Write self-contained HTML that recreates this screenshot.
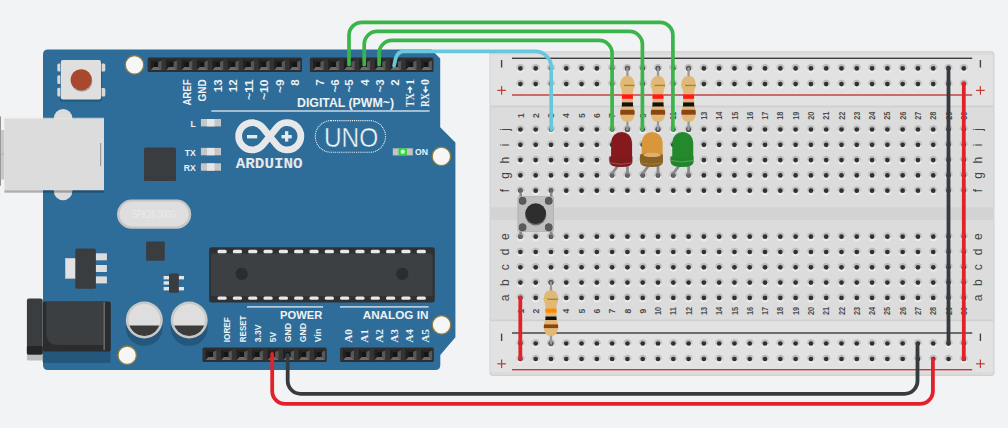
<!DOCTYPE html>
<html><head><meta charset="utf-8"><style>
html,body{margin:0;padding:0;background:#f2f3f5;width:1008px;height:428px;overflow:hidden}
svg{display:block;font-family:"Liberation Sans",sans-serif}
</style></head><body>
<svg width="1008" height="428" viewBox="0 0 1008 428">
<rect x="0.00" y="0.00" width="1008.00" height="428.00" rx="0" fill="#f2f3f5" />
<rect x="0.00" y="116.30" width="0.90" height="69.50" rx="0" fill="#8a8a8a" />
<rect x="0.90" y="130.00" width="3.50" height="49.50" rx="0" fill="#c9c9c9" />
<rect x="0.90" y="153.60" width="3.50" height="0.80" rx="0" fill="#b0b0b0" />
<path d="M48,49.5 L431.3,49.5 L440.2,58.4 L440.2,127.2 L455.4,142.4 L455.4,337.3 L440.3,354.9 L440.3,365 Q440.3,370 435.3,370 L48,370 Q43,370 43,365 L43,54.5 Q43,49.5 48,49.5 Z" fill="#2e6d99"/>
<rect x="53.80" y="109.10" width="18.60" height="91.10" rx="9.3" fill="#dcdcdc" />
<rect x="4.40" y="118.70" width="99.60" height="71.60" rx="0" fill="#dcdcdc" />
<rect x="4.40" y="117.80" width="99.60" height="0.90" rx="0" fill="#e6e6e6" />
<rect x="4.40" y="190.30" width="99.60" height="2.40" rx="0" fill="#000000" opacity="0.28"/>
<rect x="100.00" y="143.00" width="1.20" height="23.00" rx="0" fill="#9b9b9b" />
<rect x="59.80" y="61.00" width="42.40" height="40.80" rx="2.5" fill="#245a80" />
<rect x="57.30" y="63.50" width="4.00" height="8.00" rx="1.5" fill="#d8d8d8" />
<rect x="57.30" y="75.30" width="4.00" height="8.70" rx="1.5" fill="#d8d8d8" />
<rect x="57.30" y="87.70" width="4.00" height="8.80" rx="1.5" fill="#d8d8d8" />
<rect x="100.50" y="63.50" width="4.80" height="8.00" rx="1.5" fill="#d8d8d8" />
<rect x="100.50" y="88.00" width="4.80" height="8.50" rx="1.5" fill="#d8d8d8" />
<rect x="60.30" y="59.90" width="41.30" height="40.10" rx="2" fill="#265d85" />
<rect x="60.80" y="59.90" width="40.20" height="39.70" rx="2" fill="#dfdfdf" />
<circle cx="81.80" cy="81.20" r="10.60" fill="#7a7a7a" opacity="0.55"/>
<circle cx="81.20" cy="79.80" r="10.60" fill="#a8492d" />
<circle cx="134.5" cy="64.9" r="9.2" fill="#f6f6f6" stroke="#8f7d3d" stroke-width="1.3"/>
<circle cx="441.4" cy="156.4" r="9.2" fill="#f6f6f6" stroke="#8f7d3d" stroke-width="1.3"/>
<circle cx="441.5" cy="324.9" r="9.2" fill="#f6f6f6" stroke="#8f7d3d" stroke-width="1.3"/>
<circle cx="127.2" cy="355.2" r="9.2" fill="#f6f6f6" stroke="#8f7d3d" stroke-width="1.3"/>
<rect x="147.60" y="57.50" width="154.40" height="14.40" rx="1.5" fill="#2e2e2e" />
<rect x="161.50" y="58.70" width="4.44" height="12.00" rx="0" fill="#333333" />
<rect x="148.40" y="58.70" width="2.30" height="12.00" rx="0" fill="#333333" />
<polygon points="150.70,59.50 161.50,59.50 158.20,61.90 153.50,61.90" fill="#262626"/>
<polygon points="150.70,59.50 153.50,61.90 153.50,67.00 150.70,69.90" fill="#202020"/>
<rect x="153.50" y="61.90" width="4.70" height="5.10" rx="0" fill="#151515" />
<polygon points="158.20,67.00 158.20,61.90 161.50,60.40 161.50,69.90" fill="#585858"/>
<polygon points="150.90,69.90 153.50,67.00 158.20,67.00 161.50,69.90" fill="#6b6b6b"/>
<rect x="176.94" y="58.70" width="4.44" height="12.00" rx="0" fill="#333333" />
<polygon points="166.14,59.50 176.94,59.50 173.64,61.90 168.94,61.90" fill="#262626"/>
<polygon points="166.14,59.50 168.94,61.90 168.94,67.00 166.14,69.90" fill="#202020"/>
<rect x="168.94" y="61.90" width="4.70" height="5.10" rx="0" fill="#151515" />
<polygon points="173.64,67.00 173.64,61.90 176.94,60.40 176.94,69.90" fill="#585858"/>
<polygon points="166.34,69.90 168.94,67.00 173.64,67.00 176.94,69.90" fill="#6b6b6b"/>
<rect x="192.38" y="58.70" width="4.44" height="12.00" rx="0" fill="#333333" />
<polygon points="181.58,59.50 192.38,59.50 189.08,61.90 184.38,61.90" fill="#262626"/>
<polygon points="181.58,59.50 184.38,61.90 184.38,67.00 181.58,69.90" fill="#202020"/>
<rect x="184.38" y="61.90" width="4.70" height="5.10" rx="0" fill="#151515" />
<polygon points="189.08,67.00 189.08,61.90 192.38,60.40 192.38,69.90" fill="#585858"/>
<polygon points="181.78,69.90 184.38,67.00 189.08,67.00 192.38,69.90" fill="#6b6b6b"/>
<rect x="207.82" y="58.70" width="4.44" height="12.00" rx="0" fill="#333333" />
<polygon points="197.02,59.50 207.82,59.50 204.52,61.90 199.82,61.90" fill="#262626"/>
<polygon points="197.02,59.50 199.82,61.90 199.82,67.00 197.02,69.90" fill="#202020"/>
<rect x="199.82" y="61.90" width="4.70" height="5.10" rx="0" fill="#151515" />
<polygon points="204.52,67.00 204.52,61.90 207.82,60.40 207.82,69.90" fill="#585858"/>
<polygon points="197.22,69.90 199.82,67.00 204.52,67.00 207.82,69.90" fill="#6b6b6b"/>
<rect x="223.26" y="58.70" width="4.44" height="12.00" rx="0" fill="#333333" />
<polygon points="212.46,59.50 223.26,59.50 219.96,61.90 215.26,61.90" fill="#262626"/>
<polygon points="212.46,59.50 215.26,61.90 215.26,67.00 212.46,69.90" fill="#202020"/>
<rect x="215.26" y="61.90" width="4.70" height="5.10" rx="0" fill="#151515" />
<polygon points="219.96,67.00 219.96,61.90 223.26,60.40 223.26,69.90" fill="#585858"/>
<polygon points="212.66,69.90 215.26,67.00 219.96,67.00 223.26,69.90" fill="#6b6b6b"/>
<rect x="238.70" y="58.70" width="4.44" height="12.00" rx="0" fill="#333333" />
<polygon points="227.90,59.50 238.70,59.50 235.40,61.90 230.70,61.90" fill="#262626"/>
<polygon points="227.90,59.50 230.70,61.90 230.70,67.00 227.90,69.90" fill="#202020"/>
<rect x="230.70" y="61.90" width="4.70" height="5.10" rx="0" fill="#151515" />
<polygon points="235.40,67.00 235.40,61.90 238.70,60.40 238.70,69.90" fill="#585858"/>
<polygon points="228.10,69.90 230.70,67.00 235.40,67.00 238.70,69.90" fill="#6b6b6b"/>
<rect x="254.14" y="58.70" width="4.44" height="12.00" rx="0" fill="#333333" />
<polygon points="243.34,59.50 254.14,59.50 250.84,61.90 246.14,61.90" fill="#262626"/>
<polygon points="243.34,59.50 246.14,61.90 246.14,67.00 243.34,69.90" fill="#202020"/>
<rect x="246.14" y="61.90" width="4.70" height="5.10" rx="0" fill="#151515" />
<polygon points="250.84,67.00 250.84,61.90 254.14,60.40 254.14,69.90" fill="#585858"/>
<polygon points="243.54,69.90 246.14,67.00 250.84,67.00 254.14,69.90" fill="#6b6b6b"/>
<rect x="269.58" y="58.70" width="4.44" height="12.00" rx="0" fill="#333333" />
<polygon points="258.78,59.50 269.58,59.50 266.28,61.90 261.58,61.90" fill="#262626"/>
<polygon points="258.78,59.50 261.58,61.90 261.58,67.00 258.78,69.90" fill="#202020"/>
<rect x="261.58" y="61.90" width="4.70" height="5.10" rx="0" fill="#151515" />
<polygon points="266.28,67.00 266.28,61.90 269.58,60.40 269.58,69.90" fill="#585858"/>
<polygon points="258.98,69.90 261.58,67.00 266.28,67.00 269.58,69.90" fill="#6b6b6b"/>
<rect x="285.02" y="58.70" width="4.44" height="12.00" rx="0" fill="#333333" />
<polygon points="274.22,59.50 285.02,59.50 281.72,61.90 277.02,61.90" fill="#262626"/>
<polygon points="274.22,59.50 277.02,61.90 277.02,67.00 274.22,69.90" fill="#202020"/>
<rect x="277.02" y="61.90" width="4.70" height="5.10" rx="0" fill="#151515" />
<polygon points="281.72,67.00 281.72,61.90 285.02,60.40 285.02,69.90" fill="#585858"/>
<polygon points="274.42,69.90 277.02,67.00 281.72,67.00 285.02,69.90" fill="#6b6b6b"/>
<rect x="300.46" y="58.70" width="0.74" height="12.00" rx="0" fill="#333333" />
<polygon points="289.66,59.50 300.46,59.50 297.16,61.90 292.46,61.90" fill="#262626"/>
<polygon points="289.66,59.50 292.46,61.90 292.46,67.00 289.66,69.90" fill="#202020"/>
<rect x="292.46" y="61.90" width="4.70" height="5.10" rx="0" fill="#151515" />
<polygon points="297.16,67.00 297.16,61.90 300.46,60.40 300.46,69.90" fill="#585858"/>
<polygon points="289.86,69.90 292.46,67.00 297.16,67.00 300.46,69.90" fill="#6b6b6b"/>
<rect x="309.90" y="57.50" width="123.60" height="14.40" rx="1.5" fill="#2e2e2e" />
<rect x="323.80" y="58.70" width="4.45" height="12.00" rx="0" fill="#333333" />
<rect x="310.70" y="58.70" width="2.30" height="12.00" rx="0" fill="#333333" />
<polygon points="313.00,59.50 323.80,59.50 320.50,61.90 315.80,61.90" fill="#262626"/>
<polygon points="313.00,59.50 315.80,61.90 315.80,67.00 313.00,69.90" fill="#202020"/>
<rect x="315.80" y="61.90" width="4.70" height="5.10" rx="0" fill="#151515" />
<polygon points="320.50,67.00 320.50,61.90 323.80,60.40 323.80,69.90" fill="#585858"/>
<polygon points="313.20,69.90 315.80,67.00 320.50,67.00 323.80,69.90" fill="#6b6b6b"/>
<rect x="339.25" y="58.70" width="4.45" height="12.00" rx="0" fill="#333333" />
<polygon points="328.45,59.50 339.25,59.50 335.95,61.90 331.25,61.90" fill="#262626"/>
<polygon points="328.45,59.50 331.25,61.90 331.25,67.00 328.45,69.90" fill="#202020"/>
<rect x="331.25" y="61.90" width="4.70" height="5.10" rx="0" fill="#151515" />
<polygon points="335.95,67.00 335.95,61.90 339.25,60.40 339.25,69.90" fill="#585858"/>
<polygon points="328.65,69.90 331.25,67.00 335.95,67.00 339.25,69.90" fill="#6b6b6b"/>
<rect x="354.70" y="58.70" width="4.45" height="12.00" rx="0" fill="#333333" />
<polygon points="343.90,59.50 354.70,59.50 351.40,61.90 346.70,61.90" fill="#262626"/>
<polygon points="343.90,59.50 346.70,61.90 346.70,67.00 343.90,69.90" fill="#202020"/>
<rect x="346.70" y="61.90" width="4.70" height="5.10" rx="0" fill="#151515" />
<polygon points="351.40,67.00 351.40,61.90 354.70,60.40 354.70,69.90" fill="#585858"/>
<polygon points="344.10,69.90 346.70,67.00 351.40,67.00 354.70,69.90" fill="#6b6b6b"/>
<rect x="370.15" y="58.70" width="4.45" height="12.00" rx="0" fill="#333333" />
<polygon points="359.35,59.50 370.15,59.50 366.85,61.90 362.15,61.90" fill="#262626"/>
<polygon points="359.35,59.50 362.15,61.90 362.15,67.00 359.35,69.90" fill="#202020"/>
<rect x="362.15" y="61.90" width="4.70" height="5.10" rx="0" fill="#151515" />
<polygon points="366.85,67.00 366.85,61.90 370.15,60.40 370.15,69.90" fill="#585858"/>
<polygon points="359.55,69.90 362.15,67.00 366.85,67.00 370.15,69.90" fill="#6b6b6b"/>
<rect x="385.60" y="58.70" width="4.45" height="12.00" rx="0" fill="#333333" />
<polygon points="374.80,59.50 385.60,59.50 382.30,61.90 377.60,61.90" fill="#262626"/>
<polygon points="374.80,59.50 377.60,61.90 377.60,67.00 374.80,69.90" fill="#202020"/>
<rect x="377.60" y="61.90" width="4.70" height="5.10" rx="0" fill="#151515" />
<polygon points="382.30,67.00 382.30,61.90 385.60,60.40 385.60,69.90" fill="#585858"/>
<polygon points="375.00,69.90 377.60,67.00 382.30,67.00 385.60,69.90" fill="#6b6b6b"/>
<rect x="401.05" y="58.70" width="4.45" height="12.00" rx="0" fill="#333333" />
<polygon points="390.25,59.50 401.05,59.50 397.75,61.90 393.05,61.90" fill="#262626"/>
<polygon points="390.25,59.50 393.05,61.90 393.05,67.00 390.25,69.90" fill="#202020"/>
<rect x="393.05" y="61.90" width="4.70" height="5.10" rx="0" fill="#151515" />
<polygon points="397.75,67.00 397.75,61.90 401.05,60.40 401.05,69.90" fill="#585858"/>
<polygon points="390.45,69.90 393.05,67.00 397.75,67.00 401.05,69.90" fill="#6b6b6b"/>
<rect x="416.50" y="58.70" width="4.45" height="12.00" rx="0" fill="#333333" />
<polygon points="405.70,59.50 416.50,59.50 413.20,61.90 408.50,61.90" fill="#262626"/>
<polygon points="405.70,59.50 408.50,61.90 408.50,67.00 405.70,69.90" fill="#202020"/>
<rect x="408.50" y="61.90" width="4.70" height="5.10" rx="0" fill="#151515" />
<polygon points="413.20,67.00 413.20,61.90 416.50,60.40 416.50,69.90" fill="#585858"/>
<polygon points="405.90,69.90 408.50,67.00 413.20,67.00 416.50,69.90" fill="#6b6b6b"/>
<rect x="431.95" y="58.70" width="0.75" height="12.00" rx="0" fill="#333333" />
<polygon points="421.15,59.50 431.95,59.50 428.65,61.90 423.95,61.90" fill="#262626"/>
<polygon points="421.15,59.50 423.95,61.90 423.95,67.00 421.15,69.90" fill="#202020"/>
<rect x="423.95" y="61.90" width="4.70" height="5.10" rx="0" fill="#151515" />
<polygon points="428.65,67.00 428.65,61.90 431.95,60.40 431.95,69.90" fill="#585858"/>
<polygon points="421.35,69.90 423.95,67.00 428.65,67.00 431.95,69.90" fill="#6b6b6b"/>
<rect x="202.50" y="347.50" width="124.24" height="14.40" rx="1.5" fill="#2e2e2e" />
<rect x="216.40" y="348.70" width="4.53" height="12.00" rx="0" fill="#333333" />
<rect x="203.30" y="348.70" width="2.30" height="12.00" rx="0" fill="#333333" />
<polygon points="205.60,349.50 216.40,349.50 213.10,351.90 208.40,351.90" fill="#262626"/>
<polygon points="205.60,349.50 208.40,351.90 208.40,357.00 205.60,359.90" fill="#202020"/>
<rect x="208.40" y="351.90" width="4.70" height="5.10" rx="0" fill="#151515" />
<polygon points="213.10,357.00 213.10,351.90 216.40,350.40 216.40,359.90" fill="#585858"/>
<polygon points="205.80,359.90 208.40,357.00 213.10,357.00 216.40,359.90" fill="#6b6b6b"/>
<rect x="231.93" y="348.70" width="4.53" height="12.00" rx="0" fill="#333333" />
<polygon points="221.13,349.50 231.93,349.50 228.63,351.90 223.93,351.90" fill="#262626"/>
<polygon points="221.13,349.50 223.93,351.90 223.93,357.00 221.13,359.90" fill="#202020"/>
<rect x="223.93" y="351.90" width="4.70" height="5.10" rx="0" fill="#151515" />
<polygon points="228.63,357.00 228.63,351.90 231.93,350.40 231.93,359.90" fill="#585858"/>
<polygon points="221.33,359.90 223.93,357.00 228.63,357.00 231.93,359.90" fill="#6b6b6b"/>
<rect x="247.46" y="348.70" width="4.53" height="12.00" rx="0" fill="#333333" />
<polygon points="236.66,349.50 247.46,349.50 244.16,351.90 239.46,351.90" fill="#262626"/>
<polygon points="236.66,349.50 239.46,351.90 239.46,357.00 236.66,359.90" fill="#202020"/>
<rect x="239.46" y="351.90" width="4.70" height="5.10" rx="0" fill="#151515" />
<polygon points="244.16,357.00 244.16,351.90 247.46,350.40 247.46,359.90" fill="#585858"/>
<polygon points="236.86,359.90 239.46,357.00 244.16,357.00 247.46,359.90" fill="#6b6b6b"/>
<rect x="262.99" y="348.70" width="4.53" height="12.00" rx="0" fill="#333333" />
<polygon points="252.19,349.50 262.99,349.50 259.69,351.90 254.99,351.90" fill="#262626"/>
<polygon points="252.19,349.50 254.99,351.90 254.99,357.00 252.19,359.90" fill="#202020"/>
<rect x="254.99" y="351.90" width="4.70" height="5.10" rx="0" fill="#151515" />
<polygon points="259.69,357.00 259.69,351.90 262.99,350.40 262.99,359.90" fill="#585858"/>
<polygon points="252.39,359.90 254.99,357.00 259.69,357.00 262.99,359.90" fill="#6b6b6b"/>
<rect x="278.52" y="348.70" width="4.53" height="12.00" rx="0" fill="#333333" />
<polygon points="267.72,349.50 278.52,349.50 275.22,351.90 270.52,351.90" fill="#262626"/>
<polygon points="267.72,349.50 270.52,351.90 270.52,357.00 267.72,359.90" fill="#202020"/>
<rect x="270.52" y="351.90" width="4.70" height="5.10" rx="0" fill="#151515" />
<polygon points="275.22,357.00 275.22,351.90 278.52,350.40 278.52,359.90" fill="#585858"/>
<polygon points="267.92,359.90 270.52,357.00 275.22,357.00 278.52,359.90" fill="#6b6b6b"/>
<rect x="294.05" y="348.70" width="4.53" height="12.00" rx="0" fill="#333333" />
<polygon points="283.25,349.50 294.05,349.50 290.75,351.90 286.05,351.90" fill="#262626"/>
<polygon points="283.25,349.50 286.05,351.90 286.05,357.00 283.25,359.90" fill="#202020"/>
<rect x="286.05" y="351.90" width="4.70" height="5.10" rx="0" fill="#151515" />
<polygon points="290.75,357.00 290.75,351.90 294.05,350.40 294.05,359.90" fill="#585858"/>
<polygon points="283.45,359.90 286.05,357.00 290.75,357.00 294.05,359.90" fill="#6b6b6b"/>
<rect x="309.58" y="348.70" width="4.53" height="12.00" rx="0" fill="#333333" />
<polygon points="298.78,349.50 309.58,349.50 306.28,351.90 301.58,351.90" fill="#262626"/>
<polygon points="298.78,349.50 301.58,351.90 301.58,357.00 298.78,359.90" fill="#202020"/>
<rect x="301.58" y="351.90" width="4.70" height="5.10" rx="0" fill="#151515" />
<polygon points="306.28,357.00 306.28,351.90 309.58,350.40 309.58,359.90" fill="#585858"/>
<polygon points="298.98,359.90 301.58,357.00 306.28,357.00 309.58,359.90" fill="#6b6b6b"/>
<rect x="325.11" y="348.70" width="0.83" height="12.00" rx="0" fill="#333333" />
<polygon points="314.31,349.50 325.11,349.50 321.81,351.90 317.11,351.90" fill="#262626"/>
<polygon points="314.31,349.50 317.11,351.90 317.11,357.00 314.31,359.90" fill="#202020"/>
<rect x="317.11" y="351.90" width="4.70" height="5.10" rx="0" fill="#151515" />
<polygon points="321.81,357.00 321.81,351.90 325.11,350.40 325.11,359.90" fill="#585858"/>
<polygon points="314.51,359.90 317.11,357.00 321.81,357.00 325.11,359.90" fill="#6b6b6b"/>
<rect x="340.10" y="347.50" width="93.72" height="14.40" rx="1.5" fill="#2e2e2e" />
<rect x="354.00" y="348.70" width="4.62" height="12.00" rx="0" fill="#333333" />
<rect x="340.90" y="348.70" width="2.30" height="12.00" rx="0" fill="#333333" />
<polygon points="343.20,349.50 354.00,349.50 350.70,351.90 346.00,351.90" fill="#262626"/>
<polygon points="343.20,349.50 346.00,351.90 346.00,357.00 343.20,359.90" fill="#202020"/>
<rect x="346.00" y="351.90" width="4.70" height="5.10" rx="0" fill="#151515" />
<polygon points="350.70,357.00 350.70,351.90 354.00,350.40 354.00,359.90" fill="#585858"/>
<polygon points="343.40,359.90 346.00,357.00 350.70,357.00 354.00,359.90" fill="#6b6b6b"/>
<rect x="369.62" y="348.70" width="4.62" height="12.00" rx="0" fill="#333333" />
<polygon points="358.82,349.50 369.62,349.50 366.32,351.90 361.62,351.90" fill="#262626"/>
<polygon points="358.82,349.50 361.62,351.90 361.62,357.00 358.82,359.90" fill="#202020"/>
<rect x="361.62" y="351.90" width="4.70" height="5.10" rx="0" fill="#151515" />
<polygon points="366.32,357.00 366.32,351.90 369.62,350.40 369.62,359.90" fill="#585858"/>
<polygon points="359.02,359.90 361.62,357.00 366.32,357.00 369.62,359.90" fill="#6b6b6b"/>
<rect x="385.24" y="348.70" width="4.62" height="12.00" rx="0" fill="#333333" />
<polygon points="374.44,349.50 385.24,349.50 381.94,351.90 377.24,351.90" fill="#262626"/>
<polygon points="374.44,349.50 377.24,351.90 377.24,357.00 374.44,359.90" fill="#202020"/>
<rect x="377.24" y="351.90" width="4.70" height="5.10" rx="0" fill="#151515" />
<polygon points="381.94,357.00 381.94,351.90 385.24,350.40 385.24,359.90" fill="#585858"/>
<polygon points="374.64,359.90 377.24,357.00 381.94,357.00 385.24,359.90" fill="#6b6b6b"/>
<rect x="400.86" y="348.70" width="4.62" height="12.00" rx="0" fill="#333333" />
<polygon points="390.06,349.50 400.86,349.50 397.56,351.90 392.86,351.90" fill="#262626"/>
<polygon points="390.06,349.50 392.86,351.90 392.86,357.00 390.06,359.90" fill="#202020"/>
<rect x="392.86" y="351.90" width="4.70" height="5.10" rx="0" fill="#151515" />
<polygon points="397.56,357.00 397.56,351.90 400.86,350.40 400.86,359.90" fill="#585858"/>
<polygon points="390.26,359.90 392.86,357.00 397.56,357.00 400.86,359.90" fill="#6b6b6b"/>
<rect x="416.48" y="348.70" width="4.62" height="12.00" rx="0" fill="#333333" />
<polygon points="405.68,349.50 416.48,349.50 413.18,351.90 408.48,351.90" fill="#262626"/>
<polygon points="405.68,349.50 408.48,351.90 408.48,357.00 405.68,359.90" fill="#202020"/>
<rect x="408.48" y="351.90" width="4.70" height="5.10" rx="0" fill="#151515" />
<polygon points="413.18,357.00 413.18,351.90 416.48,350.40 416.48,359.90" fill="#585858"/>
<polygon points="405.88,359.90 408.48,357.00 413.18,357.00 416.48,359.90" fill="#6b6b6b"/>
<rect x="432.10" y="348.70" width="0.92" height="12.00" rx="0" fill="#333333" />
<polygon points="421.30,349.50 432.10,349.50 428.80,351.90 424.10,351.90" fill="#262626"/>
<polygon points="421.30,349.50 424.10,351.90 424.10,357.00 421.30,359.90" fill="#202020"/>
<rect x="424.10" y="351.90" width="4.70" height="5.10" rx="0" fill="#151515" />
<polygon points="428.80,357.00 428.80,351.90 432.10,350.40 432.10,359.90" fill="#585858"/>
<polygon points="421.50,359.90 424.10,357.00 428.80,357.00 432.10,359.90" fill="#6b6b6b"/>
<text transform="translate(190.82,79.40) rotate(-90)" text-anchor="end" font-family="'Liberation Sans', sans-serif" font-weight="bold" font-size="10.6" fill="#eef2f5" textLength="26.2" lengthAdjust="spacingAndGlyphs">AREF</text>
<text transform="translate(205.72,79.40) rotate(-90)" text-anchor="end" font-family="'Liberation Sans', sans-serif" font-weight="bold" font-size="10.6" fill="#eef2f5" textLength="22.2" lengthAdjust="spacingAndGlyphs">GND</text>
<text transform="translate(221.94,79.40) rotate(-90)" text-anchor="end" font-family="'Liberation Sans', sans-serif" font-weight="bold" font-size="11.5" fill="#eef2f5">13</text>
<text transform="translate(237.34,79.40) rotate(-90)" text-anchor="end" font-family="'Liberation Sans', sans-serif" font-weight="bold" font-size="11.5" fill="#eef2f5">12</text>
<text transform="translate(252.74,79.40) rotate(-90)" text-anchor="end" font-family="'Liberation Sans', sans-serif" font-weight="bold" font-size="11.5" fill="#eef2f5" textLength="20.6" lengthAdjust="spacingAndGlyphs">~11</text>
<text transform="translate(268.14,79.40) rotate(-90)" text-anchor="end" font-family="'Liberation Sans', sans-serif" font-weight="bold" font-size="11.5" fill="#eef2f5" textLength="20.6" lengthAdjust="spacingAndGlyphs">~10</text>
<text transform="translate(283.64,79.40) rotate(-90)" text-anchor="end" font-family="'Liberation Sans', sans-serif" font-weight="bold" font-size="11.5" fill="#eef2f5" textLength="13.5" lengthAdjust="spacingAndGlyphs">~9</text>
<text transform="translate(299.04,79.40) rotate(-90)" text-anchor="end" font-family="'Liberation Sans', sans-serif" font-weight="bold" font-size="11.5" fill="#eef2f5">8</text>
<text transform="translate(323.64,79.40) rotate(-90)" text-anchor="end" font-family="'Liberation Sans', sans-serif" font-weight="bold" font-size="11.5" fill="#eef2f5">7</text>
<text transform="translate(338.54,79.40) rotate(-90)" text-anchor="end" font-family="'Liberation Sans', sans-serif" font-weight="bold" font-size="11.5" fill="#eef2f5" textLength="13.2" lengthAdjust="spacingAndGlyphs">~6</text>
<text transform="translate(353.44,79.40) rotate(-90)" text-anchor="end" font-family="'Liberation Sans', sans-serif" font-weight="bold" font-size="11.5" fill="#eef2f5" textLength="13.2" lengthAdjust="spacingAndGlyphs">~5</text>
<text transform="translate(368.74,79.40) rotate(-90)" text-anchor="end" font-family="'Liberation Sans', sans-serif" font-weight="bold" font-size="11.5" fill="#eef2f5">4</text>
<text transform="translate(383.74,79.40) rotate(-90)" text-anchor="end" font-family="'Liberation Sans', sans-serif" font-weight="bold" font-size="11.5" fill="#eef2f5" textLength="13.2" lengthAdjust="spacingAndGlyphs">~3</text>
<text transform="translate(399.34,79.40) rotate(-90)" text-anchor="end" font-family="'Liberation Sans', sans-serif" font-weight="bold" font-size="11.5" fill="#eef2f5">2</text>
<text transform="translate(413.83,106.9) rotate(-90)" font-family="'Liberation Serif', serif" font-weight="bold" font-size="11.6" fill="#eef2f5" textLength="13.6" lengthAdjust="spacingAndGlyphs">TX</text>
<text transform="translate(413.83,78.9) rotate(-90)" text-anchor="end" font-family="'Liberation Serif', serif" font-weight="bold" font-size="11.6" fill="#eef2f5" textLength="6" lengthAdjust="spacingAndGlyphs">1</text>
<rect x="409.20" y="89.00" width="1.60" height="4.20" rx="0" fill="#eef2f5" />
<polygon points="407.1,89.6 412.9,89.6 410.0,86.0" fill="#eef2f5"/>
<text transform="translate(429.43,106.9) rotate(-90)" font-family="'Liberation Serif', serif" font-weight="bold" font-size="11.6" fill="#eef2f5" textLength="13.6" lengthAdjust="spacingAndGlyphs">RX</text>
<text transform="translate(429.43,78.9) rotate(-90)" text-anchor="end" font-family="'Liberation Serif', serif" font-weight="bold" font-size="11.6" fill="#eef2f5" textLength="6" lengthAdjust="spacingAndGlyphs">0</text>
<rect x="424.80" y="86.20" width="1.60" height="4.00" rx="0" fill="#eef2f5" />
<polygon points="422.70000000000005,89.6 428.5,89.6 425.6,93.2" fill="#eef2f5"/>
<text x="297" y="106.6" text-anchor="start" font-family="'Liberation Sans', sans-serif" font-weight="bold" font-size="12" fill="#eef2f5" textLength="97" lengthAdjust="spacingAndGlyphs" >DIGITAL (PWM~)</text>
<rect x="211.40" y="110.30" width="218.20" height="1.40" rx="0" fill="#d5e2ec" />
<rect x="200.90" y="119.00" width="20.10" height="7.40" rx="0" fill="#c6c6c6" />
<rect x="207.00" y="119.00" width="7.50" height="7.40" rx="0" fill="#e6e6e6" />
<text x="195.7" y="126.9" text-anchor="end" font-family="'Liberation Sans', sans-serif" font-weight="bold" font-size="8.6" fill="#eef2f5" >L</text>
<rect x="200.90" y="147.90" width="20.10" height="7.40" rx="0" fill="#c6c6c6" />
<rect x="207.00" y="147.90" width="7.50" height="7.40" rx="0" fill="#e6e6e6" />
<text x="195.7" y="155.8" text-anchor="end" font-family="'Liberation Sans', sans-serif" font-weight="bold" font-size="8.6" fill="#eef2f5" >TX</text>
<rect x="200.90" y="163.30" width="20.10" height="7.40" rx="0" fill="#c6c6c6" />
<rect x="207.00" y="163.30" width="7.50" height="7.40" rx="0" fill="#e6e6e6" />
<text x="195.7" y="171.20000000000002" text-anchor="end" font-family="'Liberation Sans', sans-serif" font-weight="bold" font-size="8.6" fill="#eef2f5" >RX</text>
<rect x="144.00" y="147.50" width="32.00" height="33.50" rx="1.5" fill="#3a3d40" />
<path d="M269.75,136.3 L276.68,127.74 A13.6,13.6 0 1 1 276.68,144.86 L269.75,136.3 L262.82,127.74 A13.6,13.6 0 1 0 262.82,144.86 Z" fill="none" stroke="#e6e8ea" stroke-width="6.8" stroke-linejoin="round"/>
<rect x="247.00" y="135.00" width="10.20" height="3.40" rx="0" fill="#e6e8ea" />
<rect x="281.50" y="135.00" width="10.30" height="3.40" rx="0" fill="#e6e8ea" />
<rect x="285.00" y="131.20" width="3.30" height="10.40" rx="0" fill="#e6e8ea" />
<text x="235.8" y="167.6" text-anchor="start" font-family="'Liberation Mono', monospace" font-weight="bold" font-size="14.2" fill="#e6e8ea" textLength="66.7" lengthAdjust="spacingAndGlyphs" >ARDUINO</text>
<rect x="315.3" y="120.6" width="70.2" height="31.7" rx="15.85" fill="none" stroke="#eef2f6" stroke-width="1.1" stroke-dasharray="1 0.9"/>
<text x="323.9" y="146.7" text-anchor="start" font-family="'Liberation Sans', sans-serif" font-weight="normal" font-size="27.7" fill="#f4f6f8" textLength="54.3" lengthAdjust="spacingAndGlyphs" stroke="#2e6d99" stroke-width="0.45">UNO</text>
<rect x="392.80" y="148.30" width="20.00" height="7.10" rx="0" fill="#c3c3c3" />
<rect x="398.50" y="148.30" width="8.30" height="7.10" rx="0" fill="#2fd33c" />
<circle cx="402.70" cy="151.80" r="2.20" fill="#c8ffc8" />
<text x="415" y="155.2" text-anchor="start" font-family="'Liberation Sans', sans-serif" font-weight="bold" font-size="8.3" fill="#eef2f5" textLength="13" lengthAdjust="spacingAndGlyphs" >ON</text>
<rect x="117.00" y="199.60" width="74.20" height="29.20" rx="14.6" fill="#c6c6c6" />
<rect x="119.50" y="201.50" width="69.20" height="25.00" rx="12.5" fill="#dedede" />
<text x="154.1" y="218" text-anchor="middle" font-family="'Liberation Sans', sans-serif" font-weight="normal" font-size="11" fill="#ececec" textLength="44" lengthAdjust="spacingAndGlyphs" >SPK16.000G</text>
<rect x="65.50" y="258.40" width="10.50" height="19.90" rx="0" fill="#e2e2e2" />
<rect x="65.50" y="258.40" width="10.50" height="19.90" rx="0" fill="none" stroke="#c9c9c9" stroke-width="0.8"/>
<rect x="95.00" y="253.30" width="11.90" height="7.00" rx="0" fill="#dddddd" />
<rect x="95.00" y="265.00" width="11.90" height="7.00" rx="0" fill="#dddddd" />
<rect x="95.00" y="276.40" width="11.90" height="7.00" rx="0" fill="#dddddd" />
<rect x="75.30" y="248.40" width="20.60" height="40.40" rx="1.5" fill="#3a3d40" />
<rect x="146.10" y="241.60" width="18.70" height="19.10" rx="1" fill="#3a3d40" />
<rect x="163.60" y="276.00" width="5.90" height="3.40" rx="0" fill="#e4e4e4" />
<rect x="163.60" y="281.30" width="5.90" height="3.30" rx="0" fill="#e4e4e4" />
<rect x="163.60" y="287.00" width="5.90" height="3.40" rx="0" fill="#e4e4e4" />
<rect x="178.50" y="276.00" width="5.50" height="3.40" rx="0" fill="#e4e4e4" />
<rect x="178.50" y="287.00" width="5.50" height="3.40" rx="0" fill="#e4e4e4" />
<rect x="169.00" y="273.60" width="9.80" height="19.20" rx="1" fill="#3a3d40" />
<circle cx="144.30" cy="327.30" r="18.50" fill="#24577b" />
<circle cx="144.30" cy="320.00" r="18.50" fill="#c8c8c8" />
<circle cx="144.30" cy="320.00" r="15.90" fill="#dedede" />
<circle cx="189.20" cy="327.30" r="18.50" fill="#24577b" />
<circle cx="189.20" cy="320.00" r="18.50" fill="#c8c8c8" />
<circle cx="189.20" cy="320.00" r="15.90" fill="#dedede" />
<clipPath id="capclip"><rect x="0" y="325.4" width="400" height="30"/></clipPath>
<circle cx="144.30" cy="320.00" r="15.90" fill="#3b3b3b" clip-path="url(#capclip)"/>
<circle cx="189.20" cy="320.00" r="15.90" fill="#3b3b3b" clip-path="url(#capclip)"/>
<rect x="26.90" y="352.00" width="15.80" height="8.60" rx="1.5" fill="#bdbebf" />
<rect x="42.70" y="350.00" width="67.80" height="12.90" rx="1.5" fill="#24577c" />
<rect x="42.70" y="301.60" width="68.10" height="49.80" rx="2" fill="#2a2c2e" />
<path d="M46.3,301.6 L103,301.6 L103,345 L58.3,345 Q46.3,345 46.3,333 Z" fill="#3c3f42"/>
<rect x="103.60" y="302.00" width="1.00" height="48.00" rx="0" fill="#8d8d8d" />
<rect x="26.90" y="298.50" width="15.80" height="56.10" rx="2" fill="#3a3d40" />
<rect x="26.90" y="346.00" width="15.80" height="8.60" rx="1.5" fill="#232527" />
<rect x="209.10" y="247.30" width="225.70" height="55.10" rx="2.5" fill="#2e3133" />
<rect x="210.90" y="253.40" width="221.70" height="42.90" rx="2.5" fill="#3d4043" />
<rect x="217.50" y="249.80" width="9.20" height="3.40" rx="1.5" fill="#e9e9e9" />
<rect x="217.50" y="296.40" width="9.20" height="3.40" rx="1.5" fill="#e9e9e9" />
<rect x="232.82" y="249.80" width="9.20" height="3.40" rx="1.5" fill="#e9e9e9" />
<rect x="232.82" y="296.40" width="9.20" height="3.40" rx="1.5" fill="#e9e9e9" />
<rect x="248.14" y="249.80" width="9.20" height="3.40" rx="1.5" fill="#e9e9e9" />
<rect x="248.14" y="296.40" width="9.20" height="3.40" rx="1.5" fill="#e9e9e9" />
<rect x="263.46" y="249.80" width="9.20" height="3.40" rx="1.5" fill="#e9e9e9" />
<rect x="263.46" y="296.40" width="9.20" height="3.40" rx="1.5" fill="#e9e9e9" />
<rect x="278.78" y="249.80" width="9.20" height="3.40" rx="1.5" fill="#e9e9e9" />
<rect x="278.78" y="296.40" width="9.20" height="3.40" rx="1.5" fill="#e9e9e9" />
<rect x="294.10" y="249.80" width="9.20" height="3.40" rx="1.5" fill="#e9e9e9" />
<rect x="294.10" y="296.40" width="9.20" height="3.40" rx="1.5" fill="#e9e9e9" />
<rect x="309.42" y="249.80" width="9.20" height="3.40" rx="1.5" fill="#e9e9e9" />
<rect x="309.42" y="296.40" width="9.20" height="3.40" rx="1.5" fill="#e9e9e9" />
<rect x="324.74" y="249.80" width="9.20" height="3.40" rx="1.5" fill="#e9e9e9" />
<rect x="324.74" y="296.40" width="9.20" height="3.40" rx="1.5" fill="#e9e9e9" />
<rect x="340.06" y="249.80" width="9.20" height="3.40" rx="1.5" fill="#e9e9e9" />
<rect x="340.06" y="296.40" width="9.20" height="3.40" rx="1.5" fill="#e9e9e9" />
<rect x="355.38" y="249.80" width="9.20" height="3.40" rx="1.5" fill="#e9e9e9" />
<rect x="355.38" y="296.40" width="9.20" height="3.40" rx="1.5" fill="#e9e9e9" />
<rect x="370.70" y="249.80" width="9.20" height="3.40" rx="1.5" fill="#e9e9e9" />
<rect x="370.70" y="296.40" width="9.20" height="3.40" rx="1.5" fill="#e9e9e9" />
<rect x="386.02" y="249.80" width="9.20" height="3.40" rx="1.5" fill="#e9e9e9" />
<rect x="386.02" y="296.40" width="9.20" height="3.40" rx="1.5" fill="#e9e9e9" />
<rect x="401.34" y="249.80" width="9.20" height="3.40" rx="1.5" fill="#e9e9e9" />
<rect x="401.34" y="296.40" width="9.20" height="3.40" rx="1.5" fill="#e9e9e9" />
<rect x="416.66" y="249.80" width="9.20" height="3.40" rx="1.5" fill="#e9e9e9" />
<rect x="416.66" y="296.40" width="9.20" height="3.40" rx="1.5" fill="#e9e9e9" />
<circle cx="241.70" cy="273.90" r="6.10" fill="#2a2c2e" />
<circle cx="402.30" cy="273.90" r="6.10" fill="#2a2c2e" />
<rect x="247.00" y="306.20" width="76.00" height="1.40" rx="0" fill="#d5e2ec" />
<rect x="340.00" y="306.20" width="88.60" height="1.40" rx="0" fill="#d5e2ec" />
<text x="280" y="319.3" text-anchor="start" font-family="'Liberation Sans', sans-serif" font-weight="bold" font-size="10.4" fill="#eef2f5" textLength="42.3" lengthAdjust="spacingAndGlyphs" >POWER</text>
<text x="362.7" y="318.8" text-anchor="start" font-family="'Liberation Sans', sans-serif" font-weight="bold" font-size="10.6" fill="#eef2f5" textLength="65.7" lengthAdjust="spacingAndGlyphs" >ANALOG IN</text>
<text transform="translate(230.46,342.2) rotate(-90)" font-family="'Liberation Sans', sans-serif" font-weight="bold" font-size="9.6" fill="#eef2f5" textLength="25" lengthAdjust="spacingAndGlyphs">IOREF</text>
<text transform="translate(245.66,342.2) rotate(-90)" font-family="'Liberation Sans', sans-serif" font-weight="bold" font-size="9.6" fill="#eef2f5" textLength="26.7" lengthAdjust="spacingAndGlyphs">RESET</text>
<text transform="translate(261.06,342.2) rotate(-90)" font-family="'Liberation Sans', sans-serif" font-weight="bold" font-size="9.6" fill="#eef2f5" textLength="17.7" lengthAdjust="spacingAndGlyphs">3.3V</text>
<text transform="translate(275.86,342.2) rotate(-90)" font-family="'Liberation Sans', sans-serif" font-weight="bold" font-size="9.6" fill="#eef2f5" textLength="10.2" lengthAdjust="spacingAndGlyphs">5V</text>
<text transform="translate(291.46,342.2) rotate(-90)" font-family="'Liberation Sans', sans-serif" font-weight="bold" font-size="9.6" fill="#eef2f5" textLength="19.3" lengthAdjust="spacingAndGlyphs">GND</text>
<text transform="translate(306.46,342.2) rotate(-90)" font-family="'Liberation Sans', sans-serif" font-weight="bold" font-size="9.6" fill="#eef2f5" textLength="19.3" lengthAdjust="spacingAndGlyphs">GND</text>
<text transform="translate(321.46,342.2) rotate(-90)" font-family="'Liberation Sans', sans-serif" font-weight="bold" font-size="9.6" fill="#eef2f5" textLength="13.6" lengthAdjust="spacingAndGlyphs">Vin</text>
<text transform="translate(351.80,342.8) rotate(-90)" font-family="'Liberation Serif', serif" font-weight="bold" font-size="10.6" fill="#eef2f5" textLength="13.8" lengthAdjust="spacingAndGlyphs">A0</text>
<text transform="translate(367.50,342.8) rotate(-90)" font-family="'Liberation Serif', serif" font-weight="bold" font-size="10.6" fill="#eef2f5" textLength="13.8" lengthAdjust="spacingAndGlyphs">A1</text>
<text transform="translate(382.50,342.8) rotate(-90)" font-family="'Liberation Serif', serif" font-weight="bold" font-size="10.6" fill="#eef2f5" textLength="13.8" lengthAdjust="spacingAndGlyphs">A2</text>
<text transform="translate(397.70,342.8) rotate(-90)" font-family="'Liberation Serif', serif" font-weight="bold" font-size="10.6" fill="#eef2f5" textLength="13.8" lengthAdjust="spacingAndGlyphs">A3</text>
<text transform="translate(413.10,342.8) rotate(-90)" font-family="'Liberation Serif', serif" font-weight="bold" font-size="10.6" fill="#eef2f5" textLength="13.8" lengthAdjust="spacingAndGlyphs">A4</text>
<text transform="translate(428.60,342.8) rotate(-90)" font-family="'Liberation Serif', serif" font-weight="bold" font-size="10.6" fill="#eef2f5" textLength="13.8" lengthAdjust="spacingAndGlyphs">A5</text>
<rect x="489.50" y="51.30" width="505.00" height="324.70" rx="3.5" fill="#d0d0d0" />
<rect x="490.50" y="52.30" width="503.00" height="322.50" rx="3" fill="#dcdcdc" />
<rect x="490.50" y="55.00" width="502.50" height="51.00" rx="0" fill="#e2e2e2" />
<rect x="490.50" y="320.80" width="502.50" height="51.20" rx="0" fill="#e2e2e2" />
<rect x="490.50" y="105.60" width="502.50" height="1.80" rx="0" fill="#d0d0d0" />
<rect x="490.50" y="319.60" width="502.50" height="1.60" rx="0" fill="#d0d0d0" />
<rect x="490.50" y="207.40" width="502.50" height="12.70" rx="0" fill="#d3d3d3" />
<defs><linearGradient id="halo" x1="0" y1="0" x2="0" y2="1"><stop offset="0" stop-color="#b8b8b8"/><stop offset="0.45" stop-color="#c8c8c8"/><stop offset="0.75" stop-color="#e6e6e6"/><stop offset="1" stop-color="#f3f3f3"/></linearGradient></defs>
<circle cx="520.40" cy="129.50" r="4.30" fill="url(#halo)" />
<circle cx="520.40" cy="129.50" r="2.35" fill="#313131" />
<circle cx="520.40" cy="144.80" r="4.30" fill="url(#halo)" />
<circle cx="520.40" cy="144.80" r="2.35" fill="#313131" />
<circle cx="520.40" cy="160.10" r="4.30" fill="url(#halo)" />
<circle cx="520.40" cy="160.10" r="2.35" fill="#313131" />
<circle cx="520.40" cy="175.40" r="4.30" fill="url(#halo)" />
<circle cx="520.40" cy="175.40" r="2.35" fill="#313131" />
<circle cx="520.40" cy="190.70" r="4.30" fill="url(#halo)" />
<circle cx="520.40" cy="190.70" r="2.35" fill="#313131" />
<circle cx="520.40" cy="236.70" r="4.30" fill="url(#halo)" />
<circle cx="520.40" cy="236.70" r="2.35" fill="#313131" />
<circle cx="520.40" cy="252.00" r="4.30" fill="url(#halo)" />
<circle cx="520.40" cy="252.00" r="2.35" fill="#313131" />
<circle cx="520.40" cy="267.30" r="4.30" fill="url(#halo)" />
<circle cx="520.40" cy="267.30" r="2.35" fill="#313131" />
<circle cx="520.40" cy="282.60" r="4.30" fill="url(#halo)" />
<circle cx="520.40" cy="282.60" r="2.35" fill="#313131" />
<circle cx="520.40" cy="297.90" r="4.30" fill="url(#halo)" />
<circle cx="520.40" cy="297.90" r="2.35" fill="#313131" />
<circle cx="520.40" cy="68.40" r="4.30" fill="url(#halo)" />
<circle cx="520.40" cy="68.40" r="2.35" fill="#313131" />
<circle cx="520.40" cy="84.10" r="4.30" fill="url(#halo)" />
<circle cx="520.40" cy="84.10" r="2.35" fill="#313131" />
<circle cx="520.40" cy="343.50" r="4.30" fill="url(#halo)" />
<circle cx="520.40" cy="343.50" r="2.35" fill="#313131" />
<circle cx="520.40" cy="359.00" r="4.30" fill="url(#halo)" />
<circle cx="520.40" cy="359.00" r="2.35" fill="#313131" />
<circle cx="535.69" cy="129.50" r="4.30" fill="url(#halo)" />
<circle cx="535.69" cy="129.50" r="2.35" fill="#313131" />
<circle cx="535.69" cy="144.80" r="4.30" fill="url(#halo)" />
<circle cx="535.69" cy="144.80" r="2.35" fill="#313131" />
<circle cx="535.69" cy="160.10" r="4.30" fill="url(#halo)" />
<circle cx="535.69" cy="160.10" r="2.35" fill="#313131" />
<circle cx="535.69" cy="175.40" r="4.30" fill="url(#halo)" />
<circle cx="535.69" cy="175.40" r="2.35" fill="#313131" />
<circle cx="535.69" cy="190.70" r="4.30" fill="url(#halo)" />
<circle cx="535.69" cy="190.70" r="2.35" fill="#313131" />
<circle cx="535.69" cy="236.70" r="4.30" fill="url(#halo)" />
<circle cx="535.69" cy="236.70" r="2.35" fill="#313131" />
<circle cx="535.69" cy="252.00" r="4.30" fill="url(#halo)" />
<circle cx="535.69" cy="252.00" r="2.35" fill="#313131" />
<circle cx="535.69" cy="267.30" r="4.30" fill="url(#halo)" />
<circle cx="535.69" cy="267.30" r="2.35" fill="#313131" />
<circle cx="535.69" cy="282.60" r="4.30" fill="url(#halo)" />
<circle cx="535.69" cy="282.60" r="2.35" fill="#313131" />
<circle cx="535.69" cy="297.90" r="4.30" fill="url(#halo)" />
<circle cx="535.69" cy="297.90" r="2.35" fill="#313131" />
<circle cx="535.69" cy="68.40" r="4.30" fill="url(#halo)" />
<circle cx="535.69" cy="68.40" r="2.35" fill="#313131" />
<circle cx="535.69" cy="84.10" r="4.30" fill="url(#halo)" />
<circle cx="535.69" cy="84.10" r="2.35" fill="#313131" />
<circle cx="535.69" cy="343.50" r="4.30" fill="url(#halo)" />
<circle cx="535.69" cy="343.50" r="2.35" fill="#313131" />
<circle cx="535.69" cy="359.00" r="4.30" fill="url(#halo)" />
<circle cx="535.69" cy="359.00" r="2.35" fill="#313131" />
<circle cx="550.98" cy="129.50" r="4.30" fill="url(#halo)" />
<circle cx="550.98" cy="129.50" r="2.35" fill="#313131" />
<circle cx="550.98" cy="144.80" r="4.30" fill="url(#halo)" />
<circle cx="550.98" cy="144.80" r="2.35" fill="#313131" />
<circle cx="550.98" cy="160.10" r="4.30" fill="url(#halo)" />
<circle cx="550.98" cy="160.10" r="2.35" fill="#313131" />
<circle cx="550.98" cy="175.40" r="4.30" fill="url(#halo)" />
<circle cx="550.98" cy="175.40" r="2.35" fill="#313131" />
<circle cx="550.98" cy="190.70" r="4.30" fill="url(#halo)" />
<circle cx="550.98" cy="190.70" r="2.35" fill="#313131" />
<circle cx="550.98" cy="236.70" r="4.30" fill="url(#halo)" />
<circle cx="550.98" cy="236.70" r="2.35" fill="#313131" />
<circle cx="550.98" cy="252.00" r="4.30" fill="url(#halo)" />
<circle cx="550.98" cy="252.00" r="2.35" fill="#313131" />
<circle cx="550.98" cy="267.30" r="4.30" fill="url(#halo)" />
<circle cx="550.98" cy="267.30" r="2.35" fill="#313131" />
<circle cx="550.98" cy="282.60" r="4.30" fill="url(#halo)" />
<circle cx="550.98" cy="282.60" r="2.35" fill="#313131" />
<circle cx="550.98" cy="297.90" r="4.30" fill="url(#halo)" />
<circle cx="550.98" cy="297.90" r="2.35" fill="#313131" />
<circle cx="550.98" cy="68.40" r="4.30" fill="url(#halo)" />
<circle cx="550.98" cy="68.40" r="2.35" fill="#313131" />
<circle cx="550.98" cy="84.10" r="4.30" fill="url(#halo)" />
<circle cx="550.98" cy="84.10" r="2.35" fill="#313131" />
<circle cx="550.98" cy="343.50" r="4.30" fill="url(#halo)" />
<circle cx="550.98" cy="343.50" r="2.35" fill="#313131" />
<circle cx="550.98" cy="359.00" r="4.30" fill="url(#halo)" />
<circle cx="550.98" cy="359.00" r="2.35" fill="#313131" />
<circle cx="566.27" cy="129.50" r="4.30" fill="url(#halo)" />
<circle cx="566.27" cy="129.50" r="2.35" fill="#313131" />
<circle cx="566.27" cy="144.80" r="4.30" fill="url(#halo)" />
<circle cx="566.27" cy="144.80" r="2.35" fill="#313131" />
<circle cx="566.27" cy="160.10" r="4.30" fill="url(#halo)" />
<circle cx="566.27" cy="160.10" r="2.35" fill="#313131" />
<circle cx="566.27" cy="175.40" r="4.30" fill="url(#halo)" />
<circle cx="566.27" cy="175.40" r="2.35" fill="#313131" />
<circle cx="566.27" cy="190.70" r="4.30" fill="url(#halo)" />
<circle cx="566.27" cy="190.70" r="2.35" fill="#313131" />
<circle cx="566.27" cy="236.70" r="4.30" fill="url(#halo)" />
<circle cx="566.27" cy="236.70" r="2.35" fill="#313131" />
<circle cx="566.27" cy="252.00" r="4.30" fill="url(#halo)" />
<circle cx="566.27" cy="252.00" r="2.35" fill="#313131" />
<circle cx="566.27" cy="267.30" r="4.30" fill="url(#halo)" />
<circle cx="566.27" cy="267.30" r="2.35" fill="#313131" />
<circle cx="566.27" cy="282.60" r="4.30" fill="url(#halo)" />
<circle cx="566.27" cy="282.60" r="2.35" fill="#313131" />
<circle cx="566.27" cy="297.90" r="4.30" fill="url(#halo)" />
<circle cx="566.27" cy="297.90" r="2.35" fill="#313131" />
<circle cx="566.27" cy="68.40" r="4.30" fill="url(#halo)" />
<circle cx="566.27" cy="68.40" r="2.35" fill="#313131" />
<circle cx="566.27" cy="84.10" r="4.30" fill="url(#halo)" />
<circle cx="566.27" cy="84.10" r="2.35" fill="#313131" />
<circle cx="566.27" cy="343.50" r="4.30" fill="url(#halo)" />
<circle cx="566.27" cy="343.50" r="2.35" fill="#313131" />
<circle cx="566.27" cy="359.00" r="4.30" fill="url(#halo)" />
<circle cx="566.27" cy="359.00" r="2.35" fill="#313131" />
<circle cx="581.56" cy="129.50" r="4.30" fill="url(#halo)" />
<circle cx="581.56" cy="129.50" r="2.35" fill="#313131" />
<circle cx="581.56" cy="144.80" r="4.30" fill="url(#halo)" />
<circle cx="581.56" cy="144.80" r="2.35" fill="#313131" />
<circle cx="581.56" cy="160.10" r="4.30" fill="url(#halo)" />
<circle cx="581.56" cy="160.10" r="2.35" fill="#313131" />
<circle cx="581.56" cy="175.40" r="4.30" fill="url(#halo)" />
<circle cx="581.56" cy="175.40" r="2.35" fill="#313131" />
<circle cx="581.56" cy="190.70" r="4.30" fill="url(#halo)" />
<circle cx="581.56" cy="190.70" r="2.35" fill="#313131" />
<circle cx="581.56" cy="236.70" r="4.30" fill="url(#halo)" />
<circle cx="581.56" cy="236.70" r="2.35" fill="#313131" />
<circle cx="581.56" cy="252.00" r="4.30" fill="url(#halo)" />
<circle cx="581.56" cy="252.00" r="2.35" fill="#313131" />
<circle cx="581.56" cy="267.30" r="4.30" fill="url(#halo)" />
<circle cx="581.56" cy="267.30" r="2.35" fill="#313131" />
<circle cx="581.56" cy="282.60" r="4.30" fill="url(#halo)" />
<circle cx="581.56" cy="282.60" r="2.35" fill="#313131" />
<circle cx="581.56" cy="297.90" r="4.30" fill="url(#halo)" />
<circle cx="581.56" cy="297.90" r="2.35" fill="#313131" />
<circle cx="581.56" cy="68.40" r="4.30" fill="url(#halo)" />
<circle cx="581.56" cy="68.40" r="2.35" fill="#313131" />
<circle cx="581.56" cy="84.10" r="4.30" fill="url(#halo)" />
<circle cx="581.56" cy="84.10" r="2.35" fill="#313131" />
<circle cx="581.56" cy="343.50" r="4.30" fill="url(#halo)" />
<circle cx="581.56" cy="343.50" r="2.35" fill="#313131" />
<circle cx="581.56" cy="359.00" r="4.30" fill="url(#halo)" />
<circle cx="581.56" cy="359.00" r="2.35" fill="#313131" />
<circle cx="596.85" cy="129.50" r="4.30" fill="url(#halo)" />
<circle cx="596.85" cy="129.50" r="2.35" fill="#313131" />
<circle cx="596.85" cy="144.80" r="4.30" fill="url(#halo)" />
<circle cx="596.85" cy="144.80" r="2.35" fill="#313131" />
<circle cx="596.85" cy="160.10" r="4.30" fill="url(#halo)" />
<circle cx="596.85" cy="160.10" r="2.35" fill="#313131" />
<circle cx="596.85" cy="175.40" r="4.30" fill="url(#halo)" />
<circle cx="596.85" cy="175.40" r="2.35" fill="#313131" />
<circle cx="596.85" cy="190.70" r="4.30" fill="url(#halo)" />
<circle cx="596.85" cy="190.70" r="2.35" fill="#313131" />
<circle cx="596.85" cy="236.70" r="4.30" fill="url(#halo)" />
<circle cx="596.85" cy="236.70" r="2.35" fill="#313131" />
<circle cx="596.85" cy="252.00" r="4.30" fill="url(#halo)" />
<circle cx="596.85" cy="252.00" r="2.35" fill="#313131" />
<circle cx="596.85" cy="267.30" r="4.30" fill="url(#halo)" />
<circle cx="596.85" cy="267.30" r="2.35" fill="#313131" />
<circle cx="596.85" cy="282.60" r="4.30" fill="url(#halo)" />
<circle cx="596.85" cy="282.60" r="2.35" fill="#313131" />
<circle cx="596.85" cy="297.90" r="4.30" fill="url(#halo)" />
<circle cx="596.85" cy="297.90" r="2.35" fill="#313131" />
<circle cx="596.85" cy="68.40" r="4.30" fill="url(#halo)" />
<circle cx="596.85" cy="68.40" r="2.35" fill="#313131" />
<circle cx="596.85" cy="84.10" r="4.30" fill="url(#halo)" />
<circle cx="596.85" cy="84.10" r="2.35" fill="#313131" />
<circle cx="596.85" cy="343.50" r="4.30" fill="url(#halo)" />
<circle cx="596.85" cy="343.50" r="2.35" fill="#313131" />
<circle cx="596.85" cy="359.00" r="4.30" fill="url(#halo)" />
<circle cx="596.85" cy="359.00" r="2.35" fill="#313131" />
<circle cx="612.14" cy="129.50" r="4.30" fill="url(#halo)" />
<circle cx="612.14" cy="129.50" r="2.35" fill="#313131" />
<circle cx="612.14" cy="144.80" r="4.30" fill="url(#halo)" />
<circle cx="612.14" cy="144.80" r="2.35" fill="#313131" />
<circle cx="612.14" cy="160.10" r="4.30" fill="url(#halo)" />
<circle cx="612.14" cy="160.10" r="2.35" fill="#313131" />
<circle cx="612.14" cy="175.40" r="4.30" fill="url(#halo)" />
<circle cx="612.14" cy="175.40" r="2.35" fill="#313131" />
<circle cx="612.14" cy="190.70" r="4.30" fill="url(#halo)" />
<circle cx="612.14" cy="190.70" r="2.35" fill="#313131" />
<circle cx="612.14" cy="236.70" r="4.30" fill="url(#halo)" />
<circle cx="612.14" cy="236.70" r="2.35" fill="#313131" />
<circle cx="612.14" cy="252.00" r="4.30" fill="url(#halo)" />
<circle cx="612.14" cy="252.00" r="2.35" fill="#313131" />
<circle cx="612.14" cy="267.30" r="4.30" fill="url(#halo)" />
<circle cx="612.14" cy="267.30" r="2.35" fill="#313131" />
<circle cx="612.14" cy="282.60" r="4.30" fill="url(#halo)" />
<circle cx="612.14" cy="282.60" r="2.35" fill="#313131" />
<circle cx="612.14" cy="297.90" r="4.30" fill="url(#halo)" />
<circle cx="612.14" cy="297.90" r="2.35" fill="#313131" />
<circle cx="612.14" cy="68.40" r="4.30" fill="url(#halo)" />
<circle cx="612.14" cy="68.40" r="2.35" fill="#313131" />
<circle cx="612.14" cy="84.10" r="4.30" fill="url(#halo)" />
<circle cx="612.14" cy="84.10" r="2.35" fill="#313131" />
<circle cx="612.14" cy="343.50" r="4.30" fill="url(#halo)" />
<circle cx="612.14" cy="343.50" r="2.35" fill="#313131" />
<circle cx="612.14" cy="359.00" r="4.30" fill="url(#halo)" />
<circle cx="612.14" cy="359.00" r="2.35" fill="#313131" />
<circle cx="627.43" cy="129.50" r="4.30" fill="url(#halo)" />
<circle cx="627.43" cy="129.50" r="2.35" fill="#313131" />
<circle cx="627.43" cy="144.80" r="4.30" fill="url(#halo)" />
<circle cx="627.43" cy="144.80" r="2.35" fill="#313131" />
<circle cx="627.43" cy="160.10" r="4.30" fill="url(#halo)" />
<circle cx="627.43" cy="160.10" r="2.35" fill="#313131" />
<circle cx="627.43" cy="175.40" r="4.30" fill="url(#halo)" />
<circle cx="627.43" cy="175.40" r="2.35" fill="#313131" />
<circle cx="627.43" cy="190.70" r="4.30" fill="url(#halo)" />
<circle cx="627.43" cy="190.70" r="2.35" fill="#313131" />
<circle cx="627.43" cy="236.70" r="4.30" fill="url(#halo)" />
<circle cx="627.43" cy="236.70" r="2.35" fill="#313131" />
<circle cx="627.43" cy="252.00" r="4.30" fill="url(#halo)" />
<circle cx="627.43" cy="252.00" r="2.35" fill="#313131" />
<circle cx="627.43" cy="267.30" r="4.30" fill="url(#halo)" />
<circle cx="627.43" cy="267.30" r="2.35" fill="#313131" />
<circle cx="627.43" cy="282.60" r="4.30" fill="url(#halo)" />
<circle cx="627.43" cy="282.60" r="2.35" fill="#313131" />
<circle cx="627.43" cy="297.90" r="4.30" fill="url(#halo)" />
<circle cx="627.43" cy="297.90" r="2.35" fill="#313131" />
<circle cx="627.43" cy="68.40" r="4.30" fill="url(#halo)" />
<circle cx="627.43" cy="68.40" r="2.35" fill="#313131" />
<circle cx="627.43" cy="84.10" r="4.30" fill="url(#halo)" />
<circle cx="627.43" cy="84.10" r="2.35" fill="#313131" />
<circle cx="627.43" cy="343.50" r="4.30" fill="url(#halo)" />
<circle cx="627.43" cy="343.50" r="2.35" fill="#313131" />
<circle cx="627.43" cy="359.00" r="4.30" fill="url(#halo)" />
<circle cx="627.43" cy="359.00" r="2.35" fill="#313131" />
<circle cx="642.72" cy="129.50" r="4.30" fill="url(#halo)" />
<circle cx="642.72" cy="129.50" r="2.35" fill="#313131" />
<circle cx="642.72" cy="144.80" r="4.30" fill="url(#halo)" />
<circle cx="642.72" cy="144.80" r="2.35" fill="#313131" />
<circle cx="642.72" cy="160.10" r="4.30" fill="url(#halo)" />
<circle cx="642.72" cy="160.10" r="2.35" fill="#313131" />
<circle cx="642.72" cy="175.40" r="4.30" fill="url(#halo)" />
<circle cx="642.72" cy="175.40" r="2.35" fill="#313131" />
<circle cx="642.72" cy="190.70" r="4.30" fill="url(#halo)" />
<circle cx="642.72" cy="190.70" r="2.35" fill="#313131" />
<circle cx="642.72" cy="236.70" r="4.30" fill="url(#halo)" />
<circle cx="642.72" cy="236.70" r="2.35" fill="#313131" />
<circle cx="642.72" cy="252.00" r="4.30" fill="url(#halo)" />
<circle cx="642.72" cy="252.00" r="2.35" fill="#313131" />
<circle cx="642.72" cy="267.30" r="4.30" fill="url(#halo)" />
<circle cx="642.72" cy="267.30" r="2.35" fill="#313131" />
<circle cx="642.72" cy="282.60" r="4.30" fill="url(#halo)" />
<circle cx="642.72" cy="282.60" r="2.35" fill="#313131" />
<circle cx="642.72" cy="297.90" r="4.30" fill="url(#halo)" />
<circle cx="642.72" cy="297.90" r="2.35" fill="#313131" />
<circle cx="642.72" cy="68.40" r="4.30" fill="url(#halo)" />
<circle cx="642.72" cy="68.40" r="2.35" fill="#313131" />
<circle cx="642.72" cy="84.10" r="4.30" fill="url(#halo)" />
<circle cx="642.72" cy="84.10" r="2.35" fill="#313131" />
<circle cx="642.72" cy="343.50" r="4.30" fill="url(#halo)" />
<circle cx="642.72" cy="343.50" r="2.35" fill="#313131" />
<circle cx="642.72" cy="359.00" r="4.30" fill="url(#halo)" />
<circle cx="642.72" cy="359.00" r="2.35" fill="#313131" />
<circle cx="658.01" cy="129.50" r="4.30" fill="url(#halo)" />
<circle cx="658.01" cy="129.50" r="2.35" fill="#313131" />
<circle cx="658.01" cy="144.80" r="4.30" fill="url(#halo)" />
<circle cx="658.01" cy="144.80" r="2.35" fill="#313131" />
<circle cx="658.01" cy="160.10" r="4.30" fill="url(#halo)" />
<circle cx="658.01" cy="160.10" r="2.35" fill="#313131" />
<circle cx="658.01" cy="175.40" r="4.30" fill="url(#halo)" />
<circle cx="658.01" cy="175.40" r="2.35" fill="#313131" />
<circle cx="658.01" cy="190.70" r="4.30" fill="url(#halo)" />
<circle cx="658.01" cy="190.70" r="2.35" fill="#313131" />
<circle cx="658.01" cy="236.70" r="4.30" fill="url(#halo)" />
<circle cx="658.01" cy="236.70" r="2.35" fill="#313131" />
<circle cx="658.01" cy="252.00" r="4.30" fill="url(#halo)" />
<circle cx="658.01" cy="252.00" r="2.35" fill="#313131" />
<circle cx="658.01" cy="267.30" r="4.30" fill="url(#halo)" />
<circle cx="658.01" cy="267.30" r="2.35" fill="#313131" />
<circle cx="658.01" cy="282.60" r="4.30" fill="url(#halo)" />
<circle cx="658.01" cy="282.60" r="2.35" fill="#313131" />
<circle cx="658.01" cy="297.90" r="4.30" fill="url(#halo)" />
<circle cx="658.01" cy="297.90" r="2.35" fill="#313131" />
<circle cx="658.01" cy="68.40" r="4.30" fill="url(#halo)" />
<circle cx="658.01" cy="68.40" r="2.35" fill="#313131" />
<circle cx="658.01" cy="84.10" r="4.30" fill="url(#halo)" />
<circle cx="658.01" cy="84.10" r="2.35" fill="#313131" />
<circle cx="658.01" cy="343.50" r="4.30" fill="url(#halo)" />
<circle cx="658.01" cy="343.50" r="2.35" fill="#313131" />
<circle cx="658.01" cy="359.00" r="4.30" fill="url(#halo)" />
<circle cx="658.01" cy="359.00" r="2.35" fill="#313131" />
<circle cx="673.30" cy="129.50" r="4.30" fill="url(#halo)" />
<circle cx="673.30" cy="129.50" r="2.35" fill="#313131" />
<circle cx="673.30" cy="144.80" r="4.30" fill="url(#halo)" />
<circle cx="673.30" cy="144.80" r="2.35" fill="#313131" />
<circle cx="673.30" cy="160.10" r="4.30" fill="url(#halo)" />
<circle cx="673.30" cy="160.10" r="2.35" fill="#313131" />
<circle cx="673.30" cy="175.40" r="4.30" fill="url(#halo)" />
<circle cx="673.30" cy="175.40" r="2.35" fill="#313131" />
<circle cx="673.30" cy="190.70" r="4.30" fill="url(#halo)" />
<circle cx="673.30" cy="190.70" r="2.35" fill="#313131" />
<circle cx="673.30" cy="236.70" r="4.30" fill="url(#halo)" />
<circle cx="673.30" cy="236.70" r="2.35" fill="#313131" />
<circle cx="673.30" cy="252.00" r="4.30" fill="url(#halo)" />
<circle cx="673.30" cy="252.00" r="2.35" fill="#313131" />
<circle cx="673.30" cy="267.30" r="4.30" fill="url(#halo)" />
<circle cx="673.30" cy="267.30" r="2.35" fill="#313131" />
<circle cx="673.30" cy="282.60" r="4.30" fill="url(#halo)" />
<circle cx="673.30" cy="282.60" r="2.35" fill="#313131" />
<circle cx="673.30" cy="297.90" r="4.30" fill="url(#halo)" />
<circle cx="673.30" cy="297.90" r="2.35" fill="#313131" />
<circle cx="673.30" cy="68.40" r="4.30" fill="url(#halo)" />
<circle cx="673.30" cy="68.40" r="2.35" fill="#313131" />
<circle cx="673.30" cy="84.10" r="4.30" fill="url(#halo)" />
<circle cx="673.30" cy="84.10" r="2.35" fill="#313131" />
<circle cx="673.30" cy="343.50" r="4.30" fill="url(#halo)" />
<circle cx="673.30" cy="343.50" r="2.35" fill="#313131" />
<circle cx="673.30" cy="359.00" r="4.30" fill="url(#halo)" />
<circle cx="673.30" cy="359.00" r="2.35" fill="#313131" />
<circle cx="688.59" cy="129.50" r="4.30" fill="url(#halo)" />
<circle cx="688.59" cy="129.50" r="2.35" fill="#313131" />
<circle cx="688.59" cy="144.80" r="4.30" fill="url(#halo)" />
<circle cx="688.59" cy="144.80" r="2.35" fill="#313131" />
<circle cx="688.59" cy="160.10" r="4.30" fill="url(#halo)" />
<circle cx="688.59" cy="160.10" r="2.35" fill="#313131" />
<circle cx="688.59" cy="175.40" r="4.30" fill="url(#halo)" />
<circle cx="688.59" cy="175.40" r="2.35" fill="#313131" />
<circle cx="688.59" cy="190.70" r="4.30" fill="url(#halo)" />
<circle cx="688.59" cy="190.70" r="2.35" fill="#313131" />
<circle cx="688.59" cy="236.70" r="4.30" fill="url(#halo)" />
<circle cx="688.59" cy="236.70" r="2.35" fill="#313131" />
<circle cx="688.59" cy="252.00" r="4.30" fill="url(#halo)" />
<circle cx="688.59" cy="252.00" r="2.35" fill="#313131" />
<circle cx="688.59" cy="267.30" r="4.30" fill="url(#halo)" />
<circle cx="688.59" cy="267.30" r="2.35" fill="#313131" />
<circle cx="688.59" cy="282.60" r="4.30" fill="url(#halo)" />
<circle cx="688.59" cy="282.60" r="2.35" fill="#313131" />
<circle cx="688.59" cy="297.90" r="4.30" fill="url(#halo)" />
<circle cx="688.59" cy="297.90" r="2.35" fill="#313131" />
<circle cx="688.59" cy="68.40" r="4.30" fill="url(#halo)" />
<circle cx="688.59" cy="68.40" r="2.35" fill="#313131" />
<circle cx="688.59" cy="84.10" r="4.30" fill="url(#halo)" />
<circle cx="688.59" cy="84.10" r="2.35" fill="#313131" />
<circle cx="688.59" cy="343.50" r="4.30" fill="url(#halo)" />
<circle cx="688.59" cy="343.50" r="2.35" fill="#313131" />
<circle cx="688.59" cy="359.00" r="4.30" fill="url(#halo)" />
<circle cx="688.59" cy="359.00" r="2.35" fill="#313131" />
<circle cx="703.88" cy="129.50" r="4.30" fill="url(#halo)" />
<circle cx="703.88" cy="129.50" r="2.35" fill="#313131" />
<circle cx="703.88" cy="144.80" r="4.30" fill="url(#halo)" />
<circle cx="703.88" cy="144.80" r="2.35" fill="#313131" />
<circle cx="703.88" cy="160.10" r="4.30" fill="url(#halo)" />
<circle cx="703.88" cy="160.10" r="2.35" fill="#313131" />
<circle cx="703.88" cy="175.40" r="4.30" fill="url(#halo)" />
<circle cx="703.88" cy="175.40" r="2.35" fill="#313131" />
<circle cx="703.88" cy="190.70" r="4.30" fill="url(#halo)" />
<circle cx="703.88" cy="190.70" r="2.35" fill="#313131" />
<circle cx="703.88" cy="236.70" r="4.30" fill="url(#halo)" />
<circle cx="703.88" cy="236.70" r="2.35" fill="#313131" />
<circle cx="703.88" cy="252.00" r="4.30" fill="url(#halo)" />
<circle cx="703.88" cy="252.00" r="2.35" fill="#313131" />
<circle cx="703.88" cy="267.30" r="4.30" fill="url(#halo)" />
<circle cx="703.88" cy="267.30" r="2.35" fill="#313131" />
<circle cx="703.88" cy="282.60" r="4.30" fill="url(#halo)" />
<circle cx="703.88" cy="282.60" r="2.35" fill="#313131" />
<circle cx="703.88" cy="297.90" r="4.30" fill="url(#halo)" />
<circle cx="703.88" cy="297.90" r="2.35" fill="#313131" />
<circle cx="703.88" cy="68.40" r="4.30" fill="url(#halo)" />
<circle cx="703.88" cy="68.40" r="2.35" fill="#313131" />
<circle cx="703.88" cy="84.10" r="4.30" fill="url(#halo)" />
<circle cx="703.88" cy="84.10" r="2.35" fill="#313131" />
<circle cx="703.88" cy="343.50" r="4.30" fill="url(#halo)" />
<circle cx="703.88" cy="343.50" r="2.35" fill="#313131" />
<circle cx="703.88" cy="359.00" r="4.30" fill="url(#halo)" />
<circle cx="703.88" cy="359.00" r="2.35" fill="#313131" />
<circle cx="719.17" cy="129.50" r="4.30" fill="url(#halo)" />
<circle cx="719.17" cy="129.50" r="2.35" fill="#313131" />
<circle cx="719.17" cy="144.80" r="4.30" fill="url(#halo)" />
<circle cx="719.17" cy="144.80" r="2.35" fill="#313131" />
<circle cx="719.17" cy="160.10" r="4.30" fill="url(#halo)" />
<circle cx="719.17" cy="160.10" r="2.35" fill="#313131" />
<circle cx="719.17" cy="175.40" r="4.30" fill="url(#halo)" />
<circle cx="719.17" cy="175.40" r="2.35" fill="#313131" />
<circle cx="719.17" cy="190.70" r="4.30" fill="url(#halo)" />
<circle cx="719.17" cy="190.70" r="2.35" fill="#313131" />
<circle cx="719.17" cy="236.70" r="4.30" fill="url(#halo)" />
<circle cx="719.17" cy="236.70" r="2.35" fill="#313131" />
<circle cx="719.17" cy="252.00" r="4.30" fill="url(#halo)" />
<circle cx="719.17" cy="252.00" r="2.35" fill="#313131" />
<circle cx="719.17" cy="267.30" r="4.30" fill="url(#halo)" />
<circle cx="719.17" cy="267.30" r="2.35" fill="#313131" />
<circle cx="719.17" cy="282.60" r="4.30" fill="url(#halo)" />
<circle cx="719.17" cy="282.60" r="2.35" fill="#313131" />
<circle cx="719.17" cy="297.90" r="4.30" fill="url(#halo)" />
<circle cx="719.17" cy="297.90" r="2.35" fill="#313131" />
<circle cx="719.17" cy="68.40" r="4.30" fill="url(#halo)" />
<circle cx="719.17" cy="68.40" r="2.35" fill="#313131" />
<circle cx="719.17" cy="84.10" r="4.30" fill="url(#halo)" />
<circle cx="719.17" cy="84.10" r="2.35" fill="#313131" />
<circle cx="719.17" cy="343.50" r="4.30" fill="url(#halo)" />
<circle cx="719.17" cy="343.50" r="2.35" fill="#313131" />
<circle cx="719.17" cy="359.00" r="4.30" fill="url(#halo)" />
<circle cx="719.17" cy="359.00" r="2.35" fill="#313131" />
<circle cx="734.46" cy="129.50" r="4.30" fill="url(#halo)" />
<circle cx="734.46" cy="129.50" r="2.35" fill="#313131" />
<circle cx="734.46" cy="144.80" r="4.30" fill="url(#halo)" />
<circle cx="734.46" cy="144.80" r="2.35" fill="#313131" />
<circle cx="734.46" cy="160.10" r="4.30" fill="url(#halo)" />
<circle cx="734.46" cy="160.10" r="2.35" fill="#313131" />
<circle cx="734.46" cy="175.40" r="4.30" fill="url(#halo)" />
<circle cx="734.46" cy="175.40" r="2.35" fill="#313131" />
<circle cx="734.46" cy="190.70" r="4.30" fill="url(#halo)" />
<circle cx="734.46" cy="190.70" r="2.35" fill="#313131" />
<circle cx="734.46" cy="236.70" r="4.30" fill="url(#halo)" />
<circle cx="734.46" cy="236.70" r="2.35" fill="#313131" />
<circle cx="734.46" cy="252.00" r="4.30" fill="url(#halo)" />
<circle cx="734.46" cy="252.00" r="2.35" fill="#313131" />
<circle cx="734.46" cy="267.30" r="4.30" fill="url(#halo)" />
<circle cx="734.46" cy="267.30" r="2.35" fill="#313131" />
<circle cx="734.46" cy="282.60" r="4.30" fill="url(#halo)" />
<circle cx="734.46" cy="282.60" r="2.35" fill="#313131" />
<circle cx="734.46" cy="297.90" r="4.30" fill="url(#halo)" />
<circle cx="734.46" cy="297.90" r="2.35" fill="#313131" />
<circle cx="734.46" cy="68.40" r="4.30" fill="url(#halo)" />
<circle cx="734.46" cy="68.40" r="2.35" fill="#313131" />
<circle cx="734.46" cy="84.10" r="4.30" fill="url(#halo)" />
<circle cx="734.46" cy="84.10" r="2.35" fill="#313131" />
<circle cx="734.46" cy="343.50" r="4.30" fill="url(#halo)" />
<circle cx="734.46" cy="343.50" r="2.35" fill="#313131" />
<circle cx="734.46" cy="359.00" r="4.30" fill="url(#halo)" />
<circle cx="734.46" cy="359.00" r="2.35" fill="#313131" />
<circle cx="749.75" cy="129.50" r="4.30" fill="url(#halo)" />
<circle cx="749.75" cy="129.50" r="2.35" fill="#313131" />
<circle cx="749.75" cy="144.80" r="4.30" fill="url(#halo)" />
<circle cx="749.75" cy="144.80" r="2.35" fill="#313131" />
<circle cx="749.75" cy="160.10" r="4.30" fill="url(#halo)" />
<circle cx="749.75" cy="160.10" r="2.35" fill="#313131" />
<circle cx="749.75" cy="175.40" r="4.30" fill="url(#halo)" />
<circle cx="749.75" cy="175.40" r="2.35" fill="#313131" />
<circle cx="749.75" cy="190.70" r="4.30" fill="url(#halo)" />
<circle cx="749.75" cy="190.70" r="2.35" fill="#313131" />
<circle cx="749.75" cy="236.70" r="4.30" fill="url(#halo)" />
<circle cx="749.75" cy="236.70" r="2.35" fill="#313131" />
<circle cx="749.75" cy="252.00" r="4.30" fill="url(#halo)" />
<circle cx="749.75" cy="252.00" r="2.35" fill="#313131" />
<circle cx="749.75" cy="267.30" r="4.30" fill="url(#halo)" />
<circle cx="749.75" cy="267.30" r="2.35" fill="#313131" />
<circle cx="749.75" cy="282.60" r="4.30" fill="url(#halo)" />
<circle cx="749.75" cy="282.60" r="2.35" fill="#313131" />
<circle cx="749.75" cy="297.90" r="4.30" fill="url(#halo)" />
<circle cx="749.75" cy="297.90" r="2.35" fill="#313131" />
<circle cx="749.75" cy="68.40" r="4.30" fill="url(#halo)" />
<circle cx="749.75" cy="68.40" r="2.35" fill="#313131" />
<circle cx="749.75" cy="84.10" r="4.30" fill="url(#halo)" />
<circle cx="749.75" cy="84.10" r="2.35" fill="#313131" />
<circle cx="749.75" cy="343.50" r="4.30" fill="url(#halo)" />
<circle cx="749.75" cy="343.50" r="2.35" fill="#313131" />
<circle cx="749.75" cy="359.00" r="4.30" fill="url(#halo)" />
<circle cx="749.75" cy="359.00" r="2.35" fill="#313131" />
<circle cx="765.04" cy="129.50" r="4.30" fill="url(#halo)" />
<circle cx="765.04" cy="129.50" r="2.35" fill="#313131" />
<circle cx="765.04" cy="144.80" r="4.30" fill="url(#halo)" />
<circle cx="765.04" cy="144.80" r="2.35" fill="#313131" />
<circle cx="765.04" cy="160.10" r="4.30" fill="url(#halo)" />
<circle cx="765.04" cy="160.10" r="2.35" fill="#313131" />
<circle cx="765.04" cy="175.40" r="4.30" fill="url(#halo)" />
<circle cx="765.04" cy="175.40" r="2.35" fill="#313131" />
<circle cx="765.04" cy="190.70" r="4.30" fill="url(#halo)" />
<circle cx="765.04" cy="190.70" r="2.35" fill="#313131" />
<circle cx="765.04" cy="236.70" r="4.30" fill="url(#halo)" />
<circle cx="765.04" cy="236.70" r="2.35" fill="#313131" />
<circle cx="765.04" cy="252.00" r="4.30" fill="url(#halo)" />
<circle cx="765.04" cy="252.00" r="2.35" fill="#313131" />
<circle cx="765.04" cy="267.30" r="4.30" fill="url(#halo)" />
<circle cx="765.04" cy="267.30" r="2.35" fill="#313131" />
<circle cx="765.04" cy="282.60" r="4.30" fill="url(#halo)" />
<circle cx="765.04" cy="282.60" r="2.35" fill="#313131" />
<circle cx="765.04" cy="297.90" r="4.30" fill="url(#halo)" />
<circle cx="765.04" cy="297.90" r="2.35" fill="#313131" />
<circle cx="765.04" cy="68.40" r="4.30" fill="url(#halo)" />
<circle cx="765.04" cy="68.40" r="2.35" fill="#313131" />
<circle cx="765.04" cy="84.10" r="4.30" fill="url(#halo)" />
<circle cx="765.04" cy="84.10" r="2.35" fill="#313131" />
<circle cx="765.04" cy="343.50" r="4.30" fill="url(#halo)" />
<circle cx="765.04" cy="343.50" r="2.35" fill="#313131" />
<circle cx="765.04" cy="359.00" r="4.30" fill="url(#halo)" />
<circle cx="765.04" cy="359.00" r="2.35" fill="#313131" />
<circle cx="780.33" cy="129.50" r="4.30" fill="url(#halo)" />
<circle cx="780.33" cy="129.50" r="2.35" fill="#313131" />
<circle cx="780.33" cy="144.80" r="4.30" fill="url(#halo)" />
<circle cx="780.33" cy="144.80" r="2.35" fill="#313131" />
<circle cx="780.33" cy="160.10" r="4.30" fill="url(#halo)" />
<circle cx="780.33" cy="160.10" r="2.35" fill="#313131" />
<circle cx="780.33" cy="175.40" r="4.30" fill="url(#halo)" />
<circle cx="780.33" cy="175.40" r="2.35" fill="#313131" />
<circle cx="780.33" cy="190.70" r="4.30" fill="url(#halo)" />
<circle cx="780.33" cy="190.70" r="2.35" fill="#313131" />
<circle cx="780.33" cy="236.70" r="4.30" fill="url(#halo)" />
<circle cx="780.33" cy="236.70" r="2.35" fill="#313131" />
<circle cx="780.33" cy="252.00" r="4.30" fill="url(#halo)" />
<circle cx="780.33" cy="252.00" r="2.35" fill="#313131" />
<circle cx="780.33" cy="267.30" r="4.30" fill="url(#halo)" />
<circle cx="780.33" cy="267.30" r="2.35" fill="#313131" />
<circle cx="780.33" cy="282.60" r="4.30" fill="url(#halo)" />
<circle cx="780.33" cy="282.60" r="2.35" fill="#313131" />
<circle cx="780.33" cy="297.90" r="4.30" fill="url(#halo)" />
<circle cx="780.33" cy="297.90" r="2.35" fill="#313131" />
<circle cx="780.33" cy="68.40" r="4.30" fill="url(#halo)" />
<circle cx="780.33" cy="68.40" r="2.35" fill="#313131" />
<circle cx="780.33" cy="84.10" r="4.30" fill="url(#halo)" />
<circle cx="780.33" cy="84.10" r="2.35" fill="#313131" />
<circle cx="780.33" cy="343.50" r="4.30" fill="url(#halo)" />
<circle cx="780.33" cy="343.50" r="2.35" fill="#313131" />
<circle cx="780.33" cy="359.00" r="4.30" fill="url(#halo)" />
<circle cx="780.33" cy="359.00" r="2.35" fill="#313131" />
<circle cx="795.62" cy="129.50" r="4.30" fill="url(#halo)" />
<circle cx="795.62" cy="129.50" r="2.35" fill="#313131" />
<circle cx="795.62" cy="144.80" r="4.30" fill="url(#halo)" />
<circle cx="795.62" cy="144.80" r="2.35" fill="#313131" />
<circle cx="795.62" cy="160.10" r="4.30" fill="url(#halo)" />
<circle cx="795.62" cy="160.10" r="2.35" fill="#313131" />
<circle cx="795.62" cy="175.40" r="4.30" fill="url(#halo)" />
<circle cx="795.62" cy="175.40" r="2.35" fill="#313131" />
<circle cx="795.62" cy="190.70" r="4.30" fill="url(#halo)" />
<circle cx="795.62" cy="190.70" r="2.35" fill="#313131" />
<circle cx="795.62" cy="236.70" r="4.30" fill="url(#halo)" />
<circle cx="795.62" cy="236.70" r="2.35" fill="#313131" />
<circle cx="795.62" cy="252.00" r="4.30" fill="url(#halo)" />
<circle cx="795.62" cy="252.00" r="2.35" fill="#313131" />
<circle cx="795.62" cy="267.30" r="4.30" fill="url(#halo)" />
<circle cx="795.62" cy="267.30" r="2.35" fill="#313131" />
<circle cx="795.62" cy="282.60" r="4.30" fill="url(#halo)" />
<circle cx="795.62" cy="282.60" r="2.35" fill="#313131" />
<circle cx="795.62" cy="297.90" r="4.30" fill="url(#halo)" />
<circle cx="795.62" cy="297.90" r="2.35" fill="#313131" />
<circle cx="795.62" cy="68.40" r="4.30" fill="url(#halo)" />
<circle cx="795.62" cy="68.40" r="2.35" fill="#313131" />
<circle cx="795.62" cy="84.10" r="4.30" fill="url(#halo)" />
<circle cx="795.62" cy="84.10" r="2.35" fill="#313131" />
<circle cx="795.62" cy="343.50" r="4.30" fill="url(#halo)" />
<circle cx="795.62" cy="343.50" r="2.35" fill="#313131" />
<circle cx="795.62" cy="359.00" r="4.30" fill="url(#halo)" />
<circle cx="795.62" cy="359.00" r="2.35" fill="#313131" />
<circle cx="810.91" cy="129.50" r="4.30" fill="url(#halo)" />
<circle cx="810.91" cy="129.50" r="2.35" fill="#313131" />
<circle cx="810.91" cy="144.80" r="4.30" fill="url(#halo)" />
<circle cx="810.91" cy="144.80" r="2.35" fill="#313131" />
<circle cx="810.91" cy="160.10" r="4.30" fill="url(#halo)" />
<circle cx="810.91" cy="160.10" r="2.35" fill="#313131" />
<circle cx="810.91" cy="175.40" r="4.30" fill="url(#halo)" />
<circle cx="810.91" cy="175.40" r="2.35" fill="#313131" />
<circle cx="810.91" cy="190.70" r="4.30" fill="url(#halo)" />
<circle cx="810.91" cy="190.70" r="2.35" fill="#313131" />
<circle cx="810.91" cy="236.70" r="4.30" fill="url(#halo)" />
<circle cx="810.91" cy="236.70" r="2.35" fill="#313131" />
<circle cx="810.91" cy="252.00" r="4.30" fill="url(#halo)" />
<circle cx="810.91" cy="252.00" r="2.35" fill="#313131" />
<circle cx="810.91" cy="267.30" r="4.30" fill="url(#halo)" />
<circle cx="810.91" cy="267.30" r="2.35" fill="#313131" />
<circle cx="810.91" cy="282.60" r="4.30" fill="url(#halo)" />
<circle cx="810.91" cy="282.60" r="2.35" fill="#313131" />
<circle cx="810.91" cy="297.90" r="4.30" fill="url(#halo)" />
<circle cx="810.91" cy="297.90" r="2.35" fill="#313131" />
<circle cx="810.91" cy="68.40" r="4.30" fill="url(#halo)" />
<circle cx="810.91" cy="68.40" r="2.35" fill="#313131" />
<circle cx="810.91" cy="84.10" r="4.30" fill="url(#halo)" />
<circle cx="810.91" cy="84.10" r="2.35" fill="#313131" />
<circle cx="810.91" cy="343.50" r="4.30" fill="url(#halo)" />
<circle cx="810.91" cy="343.50" r="2.35" fill="#313131" />
<circle cx="810.91" cy="359.00" r="4.30" fill="url(#halo)" />
<circle cx="810.91" cy="359.00" r="2.35" fill="#313131" />
<circle cx="826.20" cy="129.50" r="4.30" fill="url(#halo)" />
<circle cx="826.20" cy="129.50" r="2.35" fill="#313131" />
<circle cx="826.20" cy="144.80" r="4.30" fill="url(#halo)" />
<circle cx="826.20" cy="144.80" r="2.35" fill="#313131" />
<circle cx="826.20" cy="160.10" r="4.30" fill="url(#halo)" />
<circle cx="826.20" cy="160.10" r="2.35" fill="#313131" />
<circle cx="826.20" cy="175.40" r="4.30" fill="url(#halo)" />
<circle cx="826.20" cy="175.40" r="2.35" fill="#313131" />
<circle cx="826.20" cy="190.70" r="4.30" fill="url(#halo)" />
<circle cx="826.20" cy="190.70" r="2.35" fill="#313131" />
<circle cx="826.20" cy="236.70" r="4.30" fill="url(#halo)" />
<circle cx="826.20" cy="236.70" r="2.35" fill="#313131" />
<circle cx="826.20" cy="252.00" r="4.30" fill="url(#halo)" />
<circle cx="826.20" cy="252.00" r="2.35" fill="#313131" />
<circle cx="826.20" cy="267.30" r="4.30" fill="url(#halo)" />
<circle cx="826.20" cy="267.30" r="2.35" fill="#313131" />
<circle cx="826.20" cy="282.60" r="4.30" fill="url(#halo)" />
<circle cx="826.20" cy="282.60" r="2.35" fill="#313131" />
<circle cx="826.20" cy="297.90" r="4.30" fill="url(#halo)" />
<circle cx="826.20" cy="297.90" r="2.35" fill="#313131" />
<circle cx="826.20" cy="68.40" r="4.30" fill="url(#halo)" />
<circle cx="826.20" cy="68.40" r="2.35" fill="#313131" />
<circle cx="826.20" cy="84.10" r="4.30" fill="url(#halo)" />
<circle cx="826.20" cy="84.10" r="2.35" fill="#313131" />
<circle cx="826.20" cy="343.50" r="4.30" fill="url(#halo)" />
<circle cx="826.20" cy="343.50" r="2.35" fill="#313131" />
<circle cx="826.20" cy="359.00" r="4.30" fill="url(#halo)" />
<circle cx="826.20" cy="359.00" r="2.35" fill="#313131" />
<circle cx="841.49" cy="129.50" r="4.30" fill="url(#halo)" />
<circle cx="841.49" cy="129.50" r="2.35" fill="#313131" />
<circle cx="841.49" cy="144.80" r="4.30" fill="url(#halo)" />
<circle cx="841.49" cy="144.80" r="2.35" fill="#313131" />
<circle cx="841.49" cy="160.10" r="4.30" fill="url(#halo)" />
<circle cx="841.49" cy="160.10" r="2.35" fill="#313131" />
<circle cx="841.49" cy="175.40" r="4.30" fill="url(#halo)" />
<circle cx="841.49" cy="175.40" r="2.35" fill="#313131" />
<circle cx="841.49" cy="190.70" r="4.30" fill="url(#halo)" />
<circle cx="841.49" cy="190.70" r="2.35" fill="#313131" />
<circle cx="841.49" cy="236.70" r="4.30" fill="url(#halo)" />
<circle cx="841.49" cy="236.70" r="2.35" fill="#313131" />
<circle cx="841.49" cy="252.00" r="4.30" fill="url(#halo)" />
<circle cx="841.49" cy="252.00" r="2.35" fill="#313131" />
<circle cx="841.49" cy="267.30" r="4.30" fill="url(#halo)" />
<circle cx="841.49" cy="267.30" r="2.35" fill="#313131" />
<circle cx="841.49" cy="282.60" r="4.30" fill="url(#halo)" />
<circle cx="841.49" cy="282.60" r="2.35" fill="#313131" />
<circle cx="841.49" cy="297.90" r="4.30" fill="url(#halo)" />
<circle cx="841.49" cy="297.90" r="2.35" fill="#313131" />
<circle cx="841.49" cy="68.40" r="4.30" fill="url(#halo)" />
<circle cx="841.49" cy="68.40" r="2.35" fill="#313131" />
<circle cx="841.49" cy="84.10" r="4.30" fill="url(#halo)" />
<circle cx="841.49" cy="84.10" r="2.35" fill="#313131" />
<circle cx="841.49" cy="343.50" r="4.30" fill="url(#halo)" />
<circle cx="841.49" cy="343.50" r="2.35" fill="#313131" />
<circle cx="841.49" cy="359.00" r="4.30" fill="url(#halo)" />
<circle cx="841.49" cy="359.00" r="2.35" fill="#313131" />
<circle cx="856.78" cy="129.50" r="4.30" fill="url(#halo)" />
<circle cx="856.78" cy="129.50" r="2.35" fill="#313131" />
<circle cx="856.78" cy="144.80" r="4.30" fill="url(#halo)" />
<circle cx="856.78" cy="144.80" r="2.35" fill="#313131" />
<circle cx="856.78" cy="160.10" r="4.30" fill="url(#halo)" />
<circle cx="856.78" cy="160.10" r="2.35" fill="#313131" />
<circle cx="856.78" cy="175.40" r="4.30" fill="url(#halo)" />
<circle cx="856.78" cy="175.40" r="2.35" fill="#313131" />
<circle cx="856.78" cy="190.70" r="4.30" fill="url(#halo)" />
<circle cx="856.78" cy="190.70" r="2.35" fill="#313131" />
<circle cx="856.78" cy="236.70" r="4.30" fill="url(#halo)" />
<circle cx="856.78" cy="236.70" r="2.35" fill="#313131" />
<circle cx="856.78" cy="252.00" r="4.30" fill="url(#halo)" />
<circle cx="856.78" cy="252.00" r="2.35" fill="#313131" />
<circle cx="856.78" cy="267.30" r="4.30" fill="url(#halo)" />
<circle cx="856.78" cy="267.30" r="2.35" fill="#313131" />
<circle cx="856.78" cy="282.60" r="4.30" fill="url(#halo)" />
<circle cx="856.78" cy="282.60" r="2.35" fill="#313131" />
<circle cx="856.78" cy="297.90" r="4.30" fill="url(#halo)" />
<circle cx="856.78" cy="297.90" r="2.35" fill="#313131" />
<circle cx="856.78" cy="68.40" r="4.30" fill="url(#halo)" />
<circle cx="856.78" cy="68.40" r="2.35" fill="#313131" />
<circle cx="856.78" cy="84.10" r="4.30" fill="url(#halo)" />
<circle cx="856.78" cy="84.10" r="2.35" fill="#313131" />
<circle cx="856.78" cy="343.50" r="4.30" fill="url(#halo)" />
<circle cx="856.78" cy="343.50" r="2.35" fill="#313131" />
<circle cx="856.78" cy="359.00" r="4.30" fill="url(#halo)" />
<circle cx="856.78" cy="359.00" r="2.35" fill="#313131" />
<circle cx="872.07" cy="129.50" r="4.30" fill="url(#halo)" />
<circle cx="872.07" cy="129.50" r="2.35" fill="#313131" />
<circle cx="872.07" cy="144.80" r="4.30" fill="url(#halo)" />
<circle cx="872.07" cy="144.80" r="2.35" fill="#313131" />
<circle cx="872.07" cy="160.10" r="4.30" fill="url(#halo)" />
<circle cx="872.07" cy="160.10" r="2.35" fill="#313131" />
<circle cx="872.07" cy="175.40" r="4.30" fill="url(#halo)" />
<circle cx="872.07" cy="175.40" r="2.35" fill="#313131" />
<circle cx="872.07" cy="190.70" r="4.30" fill="url(#halo)" />
<circle cx="872.07" cy="190.70" r="2.35" fill="#313131" />
<circle cx="872.07" cy="236.70" r="4.30" fill="url(#halo)" />
<circle cx="872.07" cy="236.70" r="2.35" fill="#313131" />
<circle cx="872.07" cy="252.00" r="4.30" fill="url(#halo)" />
<circle cx="872.07" cy="252.00" r="2.35" fill="#313131" />
<circle cx="872.07" cy="267.30" r="4.30" fill="url(#halo)" />
<circle cx="872.07" cy="267.30" r="2.35" fill="#313131" />
<circle cx="872.07" cy="282.60" r="4.30" fill="url(#halo)" />
<circle cx="872.07" cy="282.60" r="2.35" fill="#313131" />
<circle cx="872.07" cy="297.90" r="4.30" fill="url(#halo)" />
<circle cx="872.07" cy="297.90" r="2.35" fill="#313131" />
<circle cx="872.07" cy="68.40" r="4.30" fill="url(#halo)" />
<circle cx="872.07" cy="68.40" r="2.35" fill="#313131" />
<circle cx="872.07" cy="84.10" r="4.30" fill="url(#halo)" />
<circle cx="872.07" cy="84.10" r="2.35" fill="#313131" />
<circle cx="872.07" cy="343.50" r="4.30" fill="url(#halo)" />
<circle cx="872.07" cy="343.50" r="2.35" fill="#313131" />
<circle cx="872.07" cy="359.00" r="4.30" fill="url(#halo)" />
<circle cx="872.07" cy="359.00" r="2.35" fill="#313131" />
<circle cx="887.36" cy="129.50" r="4.30" fill="url(#halo)" />
<circle cx="887.36" cy="129.50" r="2.35" fill="#313131" />
<circle cx="887.36" cy="144.80" r="4.30" fill="url(#halo)" />
<circle cx="887.36" cy="144.80" r="2.35" fill="#313131" />
<circle cx="887.36" cy="160.10" r="4.30" fill="url(#halo)" />
<circle cx="887.36" cy="160.10" r="2.35" fill="#313131" />
<circle cx="887.36" cy="175.40" r="4.30" fill="url(#halo)" />
<circle cx="887.36" cy="175.40" r="2.35" fill="#313131" />
<circle cx="887.36" cy="190.70" r="4.30" fill="url(#halo)" />
<circle cx="887.36" cy="190.70" r="2.35" fill="#313131" />
<circle cx="887.36" cy="236.70" r="4.30" fill="url(#halo)" />
<circle cx="887.36" cy="236.70" r="2.35" fill="#313131" />
<circle cx="887.36" cy="252.00" r="4.30" fill="url(#halo)" />
<circle cx="887.36" cy="252.00" r="2.35" fill="#313131" />
<circle cx="887.36" cy="267.30" r="4.30" fill="url(#halo)" />
<circle cx="887.36" cy="267.30" r="2.35" fill="#313131" />
<circle cx="887.36" cy="282.60" r="4.30" fill="url(#halo)" />
<circle cx="887.36" cy="282.60" r="2.35" fill="#313131" />
<circle cx="887.36" cy="297.90" r="4.30" fill="url(#halo)" />
<circle cx="887.36" cy="297.90" r="2.35" fill="#313131" />
<circle cx="887.36" cy="68.40" r="4.30" fill="url(#halo)" />
<circle cx="887.36" cy="68.40" r="2.35" fill="#313131" />
<circle cx="887.36" cy="84.10" r="4.30" fill="url(#halo)" />
<circle cx="887.36" cy="84.10" r="2.35" fill="#313131" />
<circle cx="887.36" cy="343.50" r="4.30" fill="url(#halo)" />
<circle cx="887.36" cy="343.50" r="2.35" fill="#313131" />
<circle cx="887.36" cy="359.00" r="4.30" fill="url(#halo)" />
<circle cx="887.36" cy="359.00" r="2.35" fill="#313131" />
<circle cx="902.65" cy="129.50" r="4.30" fill="url(#halo)" />
<circle cx="902.65" cy="129.50" r="2.35" fill="#313131" />
<circle cx="902.65" cy="144.80" r="4.30" fill="url(#halo)" />
<circle cx="902.65" cy="144.80" r="2.35" fill="#313131" />
<circle cx="902.65" cy="160.10" r="4.30" fill="url(#halo)" />
<circle cx="902.65" cy="160.10" r="2.35" fill="#313131" />
<circle cx="902.65" cy="175.40" r="4.30" fill="url(#halo)" />
<circle cx="902.65" cy="175.40" r="2.35" fill="#313131" />
<circle cx="902.65" cy="190.70" r="4.30" fill="url(#halo)" />
<circle cx="902.65" cy="190.70" r="2.35" fill="#313131" />
<circle cx="902.65" cy="236.70" r="4.30" fill="url(#halo)" />
<circle cx="902.65" cy="236.70" r="2.35" fill="#313131" />
<circle cx="902.65" cy="252.00" r="4.30" fill="url(#halo)" />
<circle cx="902.65" cy="252.00" r="2.35" fill="#313131" />
<circle cx="902.65" cy="267.30" r="4.30" fill="url(#halo)" />
<circle cx="902.65" cy="267.30" r="2.35" fill="#313131" />
<circle cx="902.65" cy="282.60" r="4.30" fill="url(#halo)" />
<circle cx="902.65" cy="282.60" r="2.35" fill="#313131" />
<circle cx="902.65" cy="297.90" r="4.30" fill="url(#halo)" />
<circle cx="902.65" cy="297.90" r="2.35" fill="#313131" />
<circle cx="902.65" cy="68.40" r="4.30" fill="url(#halo)" />
<circle cx="902.65" cy="68.40" r="2.35" fill="#313131" />
<circle cx="902.65" cy="84.10" r="4.30" fill="url(#halo)" />
<circle cx="902.65" cy="84.10" r="2.35" fill="#313131" />
<circle cx="902.65" cy="343.50" r="4.30" fill="url(#halo)" />
<circle cx="902.65" cy="343.50" r="2.35" fill="#313131" />
<circle cx="902.65" cy="359.00" r="4.30" fill="url(#halo)" />
<circle cx="902.65" cy="359.00" r="2.35" fill="#313131" />
<circle cx="917.94" cy="129.50" r="4.30" fill="url(#halo)" />
<circle cx="917.94" cy="129.50" r="2.35" fill="#313131" />
<circle cx="917.94" cy="144.80" r="4.30" fill="url(#halo)" />
<circle cx="917.94" cy="144.80" r="2.35" fill="#313131" />
<circle cx="917.94" cy="160.10" r="4.30" fill="url(#halo)" />
<circle cx="917.94" cy="160.10" r="2.35" fill="#313131" />
<circle cx="917.94" cy="175.40" r="4.30" fill="url(#halo)" />
<circle cx="917.94" cy="175.40" r="2.35" fill="#313131" />
<circle cx="917.94" cy="190.70" r="4.30" fill="url(#halo)" />
<circle cx="917.94" cy="190.70" r="2.35" fill="#313131" />
<circle cx="917.94" cy="236.70" r="4.30" fill="url(#halo)" />
<circle cx="917.94" cy="236.70" r="2.35" fill="#313131" />
<circle cx="917.94" cy="252.00" r="4.30" fill="url(#halo)" />
<circle cx="917.94" cy="252.00" r="2.35" fill="#313131" />
<circle cx="917.94" cy="267.30" r="4.30" fill="url(#halo)" />
<circle cx="917.94" cy="267.30" r="2.35" fill="#313131" />
<circle cx="917.94" cy="282.60" r="4.30" fill="url(#halo)" />
<circle cx="917.94" cy="282.60" r="2.35" fill="#313131" />
<circle cx="917.94" cy="297.90" r="4.30" fill="url(#halo)" />
<circle cx="917.94" cy="297.90" r="2.35" fill="#313131" />
<circle cx="917.94" cy="68.40" r="4.30" fill="url(#halo)" />
<circle cx="917.94" cy="68.40" r="2.35" fill="#313131" />
<circle cx="917.94" cy="84.10" r="4.30" fill="url(#halo)" />
<circle cx="917.94" cy="84.10" r="2.35" fill="#313131" />
<circle cx="917.94" cy="343.50" r="4.30" fill="url(#halo)" />
<circle cx="917.94" cy="343.50" r="2.35" fill="#313131" />
<circle cx="917.94" cy="359.00" r="4.30" fill="url(#halo)" />
<circle cx="917.94" cy="359.00" r="2.35" fill="#313131" />
<circle cx="933.23" cy="129.50" r="4.30" fill="url(#halo)" />
<circle cx="933.23" cy="129.50" r="2.35" fill="#313131" />
<circle cx="933.23" cy="144.80" r="4.30" fill="url(#halo)" />
<circle cx="933.23" cy="144.80" r="2.35" fill="#313131" />
<circle cx="933.23" cy="160.10" r="4.30" fill="url(#halo)" />
<circle cx="933.23" cy="160.10" r="2.35" fill="#313131" />
<circle cx="933.23" cy="175.40" r="4.30" fill="url(#halo)" />
<circle cx="933.23" cy="175.40" r="2.35" fill="#313131" />
<circle cx="933.23" cy="190.70" r="4.30" fill="url(#halo)" />
<circle cx="933.23" cy="190.70" r="2.35" fill="#313131" />
<circle cx="933.23" cy="236.70" r="4.30" fill="url(#halo)" />
<circle cx="933.23" cy="236.70" r="2.35" fill="#313131" />
<circle cx="933.23" cy="252.00" r="4.30" fill="url(#halo)" />
<circle cx="933.23" cy="252.00" r="2.35" fill="#313131" />
<circle cx="933.23" cy="267.30" r="4.30" fill="url(#halo)" />
<circle cx="933.23" cy="267.30" r="2.35" fill="#313131" />
<circle cx="933.23" cy="282.60" r="4.30" fill="url(#halo)" />
<circle cx="933.23" cy="282.60" r="2.35" fill="#313131" />
<circle cx="933.23" cy="297.90" r="4.30" fill="url(#halo)" />
<circle cx="933.23" cy="297.90" r="2.35" fill="#313131" />
<circle cx="933.23" cy="68.40" r="4.30" fill="url(#halo)" />
<circle cx="933.23" cy="68.40" r="2.35" fill="#313131" />
<circle cx="933.23" cy="84.10" r="4.30" fill="url(#halo)" />
<circle cx="933.23" cy="84.10" r="2.35" fill="#313131" />
<circle cx="933.23" cy="343.50" r="4.30" fill="url(#halo)" />
<circle cx="933.23" cy="343.50" r="2.35" fill="#313131" />
<circle cx="933.23" cy="359.00" r="4.30" fill="url(#halo)" />
<circle cx="933.23" cy="359.00" r="2.35" fill="#313131" />
<circle cx="948.52" cy="129.50" r="4.30" fill="url(#halo)" />
<circle cx="948.52" cy="129.50" r="2.35" fill="#313131" />
<circle cx="948.52" cy="144.80" r="4.30" fill="url(#halo)" />
<circle cx="948.52" cy="144.80" r="2.35" fill="#313131" />
<circle cx="948.52" cy="160.10" r="4.30" fill="url(#halo)" />
<circle cx="948.52" cy="160.10" r="2.35" fill="#313131" />
<circle cx="948.52" cy="175.40" r="4.30" fill="url(#halo)" />
<circle cx="948.52" cy="175.40" r="2.35" fill="#313131" />
<circle cx="948.52" cy="190.70" r="4.30" fill="url(#halo)" />
<circle cx="948.52" cy="190.70" r="2.35" fill="#313131" />
<circle cx="948.52" cy="236.70" r="4.30" fill="url(#halo)" />
<circle cx="948.52" cy="236.70" r="2.35" fill="#313131" />
<circle cx="948.52" cy="252.00" r="4.30" fill="url(#halo)" />
<circle cx="948.52" cy="252.00" r="2.35" fill="#313131" />
<circle cx="948.52" cy="267.30" r="4.30" fill="url(#halo)" />
<circle cx="948.52" cy="267.30" r="2.35" fill="#313131" />
<circle cx="948.52" cy="282.60" r="4.30" fill="url(#halo)" />
<circle cx="948.52" cy="282.60" r="2.35" fill="#313131" />
<circle cx="948.52" cy="297.90" r="4.30" fill="url(#halo)" />
<circle cx="948.52" cy="297.90" r="2.35" fill="#313131" />
<circle cx="948.52" cy="68.40" r="4.30" fill="url(#halo)" />
<circle cx="948.52" cy="68.40" r="2.35" fill="#313131" />
<circle cx="948.52" cy="84.10" r="4.30" fill="url(#halo)" />
<circle cx="948.52" cy="84.10" r="2.35" fill="#313131" />
<circle cx="948.52" cy="343.50" r="4.30" fill="url(#halo)" />
<circle cx="948.52" cy="343.50" r="2.35" fill="#313131" />
<circle cx="948.52" cy="359.00" r="4.30" fill="url(#halo)" />
<circle cx="948.52" cy="359.00" r="2.35" fill="#313131" />
<circle cx="963.81" cy="129.50" r="4.30" fill="url(#halo)" />
<circle cx="963.81" cy="129.50" r="2.35" fill="#313131" />
<circle cx="963.81" cy="144.80" r="4.30" fill="url(#halo)" />
<circle cx="963.81" cy="144.80" r="2.35" fill="#313131" />
<circle cx="963.81" cy="160.10" r="4.30" fill="url(#halo)" />
<circle cx="963.81" cy="160.10" r="2.35" fill="#313131" />
<circle cx="963.81" cy="175.40" r="4.30" fill="url(#halo)" />
<circle cx="963.81" cy="175.40" r="2.35" fill="#313131" />
<circle cx="963.81" cy="190.70" r="4.30" fill="url(#halo)" />
<circle cx="963.81" cy="190.70" r="2.35" fill="#313131" />
<circle cx="963.81" cy="236.70" r="4.30" fill="url(#halo)" />
<circle cx="963.81" cy="236.70" r="2.35" fill="#313131" />
<circle cx="963.81" cy="252.00" r="4.30" fill="url(#halo)" />
<circle cx="963.81" cy="252.00" r="2.35" fill="#313131" />
<circle cx="963.81" cy="267.30" r="4.30" fill="url(#halo)" />
<circle cx="963.81" cy="267.30" r="2.35" fill="#313131" />
<circle cx="963.81" cy="282.60" r="4.30" fill="url(#halo)" />
<circle cx="963.81" cy="282.60" r="2.35" fill="#313131" />
<circle cx="963.81" cy="297.90" r="4.30" fill="url(#halo)" />
<circle cx="963.81" cy="297.90" r="2.35" fill="#313131" />
<circle cx="963.81" cy="68.40" r="4.30" fill="url(#halo)" />
<circle cx="963.81" cy="68.40" r="2.35" fill="#313131" />
<circle cx="963.81" cy="84.10" r="4.30" fill="url(#halo)" />
<circle cx="963.81" cy="84.10" r="2.35" fill="#313131" />
<circle cx="963.81" cy="343.50" r="4.30" fill="url(#halo)" />
<circle cx="963.81" cy="343.50" r="2.35" fill="#313131" />
<circle cx="963.81" cy="359.00" r="4.30" fill="url(#halo)" />
<circle cx="963.81" cy="359.00" r="2.35" fill="#313131" />
<rect x="512.00" y="57.60" width="460.20" height="1.40" rx="0" fill="#3c3c3c" />
<rect x="512.00" y="94.30" width="460.20" height="1.40" rx="0" fill="#c23b3b" />
<rect x="512.00" y="332.30" width="460.20" height="1.40" rx="0" fill="#3c3c3c" />
<rect x="512.00" y="369.00" width="460.20" height="1.40" rx="0" fill="#c23b3b" />
<rect x="500.90" y="60.00" width="1.40" height="7.50" rx="0" fill="#444444" />
<rect x="500.90" y="333.60" width="1.40" height="7.40" rx="0" fill="#444444" />
<rect x="497.30" y="89.80" width="8.60" height="1.20" rx="0" fill="#c23b3b" />
<rect x="501.00" y="86.10" width="1.20" height="8.60" rx="0" fill="#c23b3b" />
<rect x="497.30" y="363.20" width="8.60" height="1.20" rx="0" fill="#c23b3b" />
<rect x="501.00" y="359.50" width="1.20" height="8.60" rx="0" fill="#c23b3b" />
<rect x="979.70" y="60.00" width="1.40" height="7.50" rx="0" fill="#444444" />
<rect x="979.70" y="333.60" width="1.40" height="7.40" rx="0" fill="#444444" />
<rect x="976.10" y="89.80" width="8.60" height="1.20" rx="0" fill="#c23b3b" />
<rect x="979.80" y="86.10" width="1.20" height="8.60" rx="0" fill="#c23b3b" />
<rect x="976.10" y="363.20" width="8.60" height="1.20" rx="0" fill="#c23b3b" />
<rect x="979.80" y="359.50" width="1.20" height="8.60" rx="0" fill="#c23b3b" />
<text transform="translate(523.50,115.70) rotate(-90)" text-anchor="middle" font-family="'Liberation Sans', sans-serif" font-weight="bold" font-size="8.6" fill="#4d4d4d" textLength="4.8" lengthAdjust="spacingAndGlyphs">1</text>
<text transform="translate(523.50,311.00) rotate(-90)" text-anchor="middle" font-family="'Liberation Sans', sans-serif" font-weight="bold" font-size="8.6" fill="#4d4d4d" textLength="4.8" lengthAdjust="spacingAndGlyphs">1</text>
<text transform="translate(538.79,115.70) rotate(-90)" text-anchor="middle" font-family="'Liberation Sans', sans-serif" font-weight="bold" font-size="8.6" fill="#4d4d4d" textLength="4.8" lengthAdjust="spacingAndGlyphs">2</text>
<text transform="translate(538.79,311.00) rotate(-90)" text-anchor="middle" font-family="'Liberation Sans', sans-serif" font-weight="bold" font-size="8.6" fill="#4d4d4d" textLength="4.8" lengthAdjust="spacingAndGlyphs">2</text>
<text transform="translate(554.08,115.70) rotate(-90)" text-anchor="middle" font-family="'Liberation Sans', sans-serif" font-weight="bold" font-size="8.6" fill="#4d4d4d" textLength="4.8" lengthAdjust="spacingAndGlyphs">3</text>
<text transform="translate(554.08,311.00) rotate(-90)" text-anchor="middle" font-family="'Liberation Sans', sans-serif" font-weight="bold" font-size="8.6" fill="#4d4d4d" textLength="4.8" lengthAdjust="spacingAndGlyphs">3</text>
<text transform="translate(569.37,115.70) rotate(-90)" text-anchor="middle" font-family="'Liberation Sans', sans-serif" font-weight="bold" font-size="8.6" fill="#4d4d4d" textLength="4.8" lengthAdjust="spacingAndGlyphs">4</text>
<text transform="translate(569.37,311.00) rotate(-90)" text-anchor="middle" font-family="'Liberation Sans', sans-serif" font-weight="bold" font-size="8.6" fill="#4d4d4d" textLength="4.8" lengthAdjust="spacingAndGlyphs">4</text>
<text transform="translate(584.66,115.70) rotate(-90)" text-anchor="middle" font-family="'Liberation Sans', sans-serif" font-weight="bold" font-size="8.6" fill="#4d4d4d" textLength="4.8" lengthAdjust="spacingAndGlyphs">5</text>
<text transform="translate(584.66,311.00) rotate(-90)" text-anchor="middle" font-family="'Liberation Sans', sans-serif" font-weight="bold" font-size="8.6" fill="#4d4d4d" textLength="4.8" lengthAdjust="spacingAndGlyphs">5</text>
<text transform="translate(599.95,115.70) rotate(-90)" text-anchor="middle" font-family="'Liberation Sans', sans-serif" font-weight="bold" font-size="8.6" fill="#4d4d4d" textLength="4.8" lengthAdjust="spacingAndGlyphs">6</text>
<text transform="translate(599.95,311.00) rotate(-90)" text-anchor="middle" font-family="'Liberation Sans', sans-serif" font-weight="bold" font-size="8.6" fill="#4d4d4d" textLength="4.8" lengthAdjust="spacingAndGlyphs">6</text>
<text transform="translate(615.24,115.70) rotate(-90)" text-anchor="middle" font-family="'Liberation Sans', sans-serif" font-weight="bold" font-size="8.6" fill="#4d4d4d" textLength="4.8" lengthAdjust="spacingAndGlyphs">7</text>
<text transform="translate(615.24,311.00) rotate(-90)" text-anchor="middle" font-family="'Liberation Sans', sans-serif" font-weight="bold" font-size="8.6" fill="#4d4d4d" textLength="4.8" lengthAdjust="spacingAndGlyphs">7</text>
<text transform="translate(630.53,115.70) rotate(-90)" text-anchor="middle" font-family="'Liberation Sans', sans-serif" font-weight="bold" font-size="8.6" fill="#4d4d4d" textLength="4.8" lengthAdjust="spacingAndGlyphs">8</text>
<text transform="translate(630.53,311.00) rotate(-90)" text-anchor="middle" font-family="'Liberation Sans', sans-serif" font-weight="bold" font-size="8.6" fill="#4d4d4d" textLength="4.8" lengthAdjust="spacingAndGlyphs">8</text>
<text transform="translate(645.82,115.70) rotate(-90)" text-anchor="middle" font-family="'Liberation Sans', sans-serif" font-weight="bold" font-size="8.6" fill="#4d4d4d" textLength="4.8" lengthAdjust="spacingAndGlyphs">9</text>
<text transform="translate(645.82,311.00) rotate(-90)" text-anchor="middle" font-family="'Liberation Sans', sans-serif" font-weight="bold" font-size="8.6" fill="#4d4d4d" textLength="4.8" lengthAdjust="spacingAndGlyphs">9</text>
<text transform="translate(661.11,115.70) rotate(-90)" text-anchor="middle" font-family="'Liberation Sans', sans-serif" font-weight="bold" font-size="8.6" fill="#4d4d4d" textLength="8.2" lengthAdjust="spacingAndGlyphs">10</text>
<text transform="translate(661.11,311.00) rotate(-90)" text-anchor="middle" font-family="'Liberation Sans', sans-serif" font-weight="bold" font-size="8.6" fill="#4d4d4d" textLength="8.2" lengthAdjust="spacingAndGlyphs">10</text>
<text transform="translate(676.40,115.70) rotate(-90)" text-anchor="middle" font-family="'Liberation Sans', sans-serif" font-weight="bold" font-size="8.6" fill="#4d4d4d" textLength="8.2" lengthAdjust="spacingAndGlyphs">11</text>
<text transform="translate(676.40,311.00) rotate(-90)" text-anchor="middle" font-family="'Liberation Sans', sans-serif" font-weight="bold" font-size="8.6" fill="#4d4d4d" textLength="8.2" lengthAdjust="spacingAndGlyphs">11</text>
<text transform="translate(691.69,115.70) rotate(-90)" text-anchor="middle" font-family="'Liberation Sans', sans-serif" font-weight="bold" font-size="8.6" fill="#4d4d4d" textLength="8.2" lengthAdjust="spacingAndGlyphs">12</text>
<text transform="translate(691.69,311.00) rotate(-90)" text-anchor="middle" font-family="'Liberation Sans', sans-serif" font-weight="bold" font-size="8.6" fill="#4d4d4d" textLength="8.2" lengthAdjust="spacingAndGlyphs">12</text>
<text transform="translate(706.98,115.70) rotate(-90)" text-anchor="middle" font-family="'Liberation Sans', sans-serif" font-weight="bold" font-size="8.6" fill="#4d4d4d" textLength="8.2" lengthAdjust="spacingAndGlyphs">13</text>
<text transform="translate(706.98,311.00) rotate(-90)" text-anchor="middle" font-family="'Liberation Sans', sans-serif" font-weight="bold" font-size="8.6" fill="#4d4d4d" textLength="8.2" lengthAdjust="spacingAndGlyphs">13</text>
<text transform="translate(722.27,115.70) rotate(-90)" text-anchor="middle" font-family="'Liberation Sans', sans-serif" font-weight="bold" font-size="8.6" fill="#4d4d4d" textLength="8.2" lengthAdjust="spacingAndGlyphs">14</text>
<text transform="translate(722.27,311.00) rotate(-90)" text-anchor="middle" font-family="'Liberation Sans', sans-serif" font-weight="bold" font-size="8.6" fill="#4d4d4d" textLength="8.2" lengthAdjust="spacingAndGlyphs">14</text>
<text transform="translate(737.56,115.70) rotate(-90)" text-anchor="middle" font-family="'Liberation Sans', sans-serif" font-weight="bold" font-size="8.6" fill="#4d4d4d" textLength="8.2" lengthAdjust="spacingAndGlyphs">15</text>
<text transform="translate(737.56,311.00) rotate(-90)" text-anchor="middle" font-family="'Liberation Sans', sans-serif" font-weight="bold" font-size="8.6" fill="#4d4d4d" textLength="8.2" lengthAdjust="spacingAndGlyphs">15</text>
<text transform="translate(752.85,115.70) rotate(-90)" text-anchor="middle" font-family="'Liberation Sans', sans-serif" font-weight="bold" font-size="8.6" fill="#4d4d4d" textLength="8.2" lengthAdjust="spacingAndGlyphs">16</text>
<text transform="translate(752.85,311.00) rotate(-90)" text-anchor="middle" font-family="'Liberation Sans', sans-serif" font-weight="bold" font-size="8.6" fill="#4d4d4d" textLength="8.2" lengthAdjust="spacingAndGlyphs">16</text>
<text transform="translate(768.14,115.70) rotate(-90)" text-anchor="middle" font-family="'Liberation Sans', sans-serif" font-weight="bold" font-size="8.6" fill="#4d4d4d" textLength="8.2" lengthAdjust="spacingAndGlyphs">17</text>
<text transform="translate(768.14,311.00) rotate(-90)" text-anchor="middle" font-family="'Liberation Sans', sans-serif" font-weight="bold" font-size="8.6" fill="#4d4d4d" textLength="8.2" lengthAdjust="spacingAndGlyphs">17</text>
<text transform="translate(783.43,115.70) rotate(-90)" text-anchor="middle" font-family="'Liberation Sans', sans-serif" font-weight="bold" font-size="8.6" fill="#4d4d4d" textLength="8.2" lengthAdjust="spacingAndGlyphs">18</text>
<text transform="translate(783.43,311.00) rotate(-90)" text-anchor="middle" font-family="'Liberation Sans', sans-serif" font-weight="bold" font-size="8.6" fill="#4d4d4d" textLength="8.2" lengthAdjust="spacingAndGlyphs">18</text>
<text transform="translate(798.72,115.70) rotate(-90)" text-anchor="middle" font-family="'Liberation Sans', sans-serif" font-weight="bold" font-size="8.6" fill="#4d4d4d" textLength="8.2" lengthAdjust="spacingAndGlyphs">19</text>
<text transform="translate(798.72,311.00) rotate(-90)" text-anchor="middle" font-family="'Liberation Sans', sans-serif" font-weight="bold" font-size="8.6" fill="#4d4d4d" textLength="8.2" lengthAdjust="spacingAndGlyphs">19</text>
<text transform="translate(814.01,115.70) rotate(-90)" text-anchor="middle" font-family="'Liberation Sans', sans-serif" font-weight="bold" font-size="8.6" fill="#4d4d4d" textLength="8.2" lengthAdjust="spacingAndGlyphs">20</text>
<text transform="translate(814.01,311.00) rotate(-90)" text-anchor="middle" font-family="'Liberation Sans', sans-serif" font-weight="bold" font-size="8.6" fill="#4d4d4d" textLength="8.2" lengthAdjust="spacingAndGlyphs">20</text>
<text transform="translate(829.30,115.70) rotate(-90)" text-anchor="middle" font-family="'Liberation Sans', sans-serif" font-weight="bold" font-size="8.6" fill="#4d4d4d" textLength="8.2" lengthAdjust="spacingAndGlyphs">21</text>
<text transform="translate(829.30,311.00) rotate(-90)" text-anchor="middle" font-family="'Liberation Sans', sans-serif" font-weight="bold" font-size="8.6" fill="#4d4d4d" textLength="8.2" lengthAdjust="spacingAndGlyphs">21</text>
<text transform="translate(844.59,115.70) rotate(-90)" text-anchor="middle" font-family="'Liberation Sans', sans-serif" font-weight="bold" font-size="8.6" fill="#4d4d4d" textLength="8.2" lengthAdjust="spacingAndGlyphs">22</text>
<text transform="translate(844.59,311.00) rotate(-90)" text-anchor="middle" font-family="'Liberation Sans', sans-serif" font-weight="bold" font-size="8.6" fill="#4d4d4d" textLength="8.2" lengthAdjust="spacingAndGlyphs">22</text>
<text transform="translate(859.88,115.70) rotate(-90)" text-anchor="middle" font-family="'Liberation Sans', sans-serif" font-weight="bold" font-size="8.6" fill="#4d4d4d" textLength="8.2" lengthAdjust="spacingAndGlyphs">23</text>
<text transform="translate(859.88,311.00) rotate(-90)" text-anchor="middle" font-family="'Liberation Sans', sans-serif" font-weight="bold" font-size="8.6" fill="#4d4d4d" textLength="8.2" lengthAdjust="spacingAndGlyphs">23</text>
<text transform="translate(875.17,115.70) rotate(-90)" text-anchor="middle" font-family="'Liberation Sans', sans-serif" font-weight="bold" font-size="8.6" fill="#4d4d4d" textLength="8.2" lengthAdjust="spacingAndGlyphs">24</text>
<text transform="translate(875.17,311.00) rotate(-90)" text-anchor="middle" font-family="'Liberation Sans', sans-serif" font-weight="bold" font-size="8.6" fill="#4d4d4d" textLength="8.2" lengthAdjust="spacingAndGlyphs">24</text>
<text transform="translate(890.46,115.70) rotate(-90)" text-anchor="middle" font-family="'Liberation Sans', sans-serif" font-weight="bold" font-size="8.6" fill="#4d4d4d" textLength="8.2" lengthAdjust="spacingAndGlyphs">25</text>
<text transform="translate(890.46,311.00) rotate(-90)" text-anchor="middle" font-family="'Liberation Sans', sans-serif" font-weight="bold" font-size="8.6" fill="#4d4d4d" textLength="8.2" lengthAdjust="spacingAndGlyphs">25</text>
<text transform="translate(905.75,115.70) rotate(-90)" text-anchor="middle" font-family="'Liberation Sans', sans-serif" font-weight="bold" font-size="8.6" fill="#4d4d4d" textLength="8.2" lengthAdjust="spacingAndGlyphs">26</text>
<text transform="translate(905.75,311.00) rotate(-90)" text-anchor="middle" font-family="'Liberation Sans', sans-serif" font-weight="bold" font-size="8.6" fill="#4d4d4d" textLength="8.2" lengthAdjust="spacingAndGlyphs">26</text>
<text transform="translate(921.04,115.70) rotate(-90)" text-anchor="middle" font-family="'Liberation Sans', sans-serif" font-weight="bold" font-size="8.6" fill="#4d4d4d" textLength="8.2" lengthAdjust="spacingAndGlyphs">27</text>
<text transform="translate(921.04,311.00) rotate(-90)" text-anchor="middle" font-family="'Liberation Sans', sans-serif" font-weight="bold" font-size="8.6" fill="#4d4d4d" textLength="8.2" lengthAdjust="spacingAndGlyphs">27</text>
<text transform="translate(936.33,115.70) rotate(-90)" text-anchor="middle" font-family="'Liberation Sans', sans-serif" font-weight="bold" font-size="8.6" fill="#4d4d4d" textLength="8.2" lengthAdjust="spacingAndGlyphs">28</text>
<text transform="translate(936.33,311.00) rotate(-90)" text-anchor="middle" font-family="'Liberation Sans', sans-serif" font-weight="bold" font-size="8.6" fill="#4d4d4d" textLength="8.2" lengthAdjust="spacingAndGlyphs">28</text>
<text transform="translate(951.62,115.70) rotate(-90)" text-anchor="middle" font-family="'Liberation Sans', sans-serif" font-weight="bold" font-size="8.6" fill="#4d4d4d" textLength="8.2" lengthAdjust="spacingAndGlyphs">29</text>
<text transform="translate(951.62,311.00) rotate(-90)" text-anchor="middle" font-family="'Liberation Sans', sans-serif" font-weight="bold" font-size="8.6" fill="#4d4d4d" textLength="8.2" lengthAdjust="spacingAndGlyphs">29</text>
<text transform="translate(966.91,115.70) rotate(-90)" text-anchor="middle" font-family="'Liberation Sans', sans-serif" font-weight="bold" font-size="8.6" fill="#4d4d4d" textLength="8.2" lengthAdjust="spacingAndGlyphs">30</text>
<text transform="translate(966.91,311.00) rotate(-90)" text-anchor="middle" font-family="'Liberation Sans', sans-serif" font-weight="bold" font-size="8.6" fill="#4d4d4d" textLength="8.2" lengthAdjust="spacingAndGlyphs">30</text>
<text transform="translate(508.60,129.50) rotate(-90)" text-anchor="middle" font-family="'Liberation Sans', sans-serif" font-size="12" fill="#444444">j</text>
<text transform="translate(508.60,144.80) rotate(-90)" text-anchor="middle" font-family="'Liberation Sans', sans-serif" font-size="12" fill="#444444">i</text>
<text transform="translate(508.60,160.10) rotate(-90)" text-anchor="middle" font-family="'Liberation Sans', sans-serif" font-size="12" fill="#444444">h</text>
<text transform="translate(508.60,175.40) rotate(-90)" text-anchor="middle" font-family="'Liberation Sans', sans-serif" font-size="12" fill="#444444">g</text>
<text transform="translate(508.60,190.70) rotate(-90)" text-anchor="middle" font-family="'Liberation Sans', sans-serif" font-size="12" fill="#444444">f</text>
<text transform="translate(508.60,236.70) rotate(-90)" text-anchor="middle" font-family="'Liberation Sans', sans-serif" font-size="12" fill="#444444">e</text>
<text transform="translate(508.60,252.00) rotate(-90)" text-anchor="middle" font-family="'Liberation Sans', sans-serif" font-size="12" fill="#444444">d</text>
<text transform="translate(508.60,267.30) rotate(-90)" text-anchor="middle" font-family="'Liberation Sans', sans-serif" font-size="12" fill="#444444">c</text>
<text transform="translate(508.60,282.60) rotate(-90)" text-anchor="middle" font-family="'Liberation Sans', sans-serif" font-size="12" fill="#444444">b</text>
<text transform="translate(508.60,297.90) rotate(-90)" text-anchor="middle" font-family="'Liberation Sans', sans-serif" font-size="12" fill="#444444">a</text>
<text transform="translate(982.30,129.50) rotate(-90)" text-anchor="middle" font-family="'Liberation Sans', sans-serif" font-size="12" fill="#444444">j</text>
<text transform="translate(982.30,144.80) rotate(-90)" text-anchor="middle" font-family="'Liberation Sans', sans-serif" font-size="12" fill="#444444">i</text>
<text transform="translate(982.30,160.10) rotate(-90)" text-anchor="middle" font-family="'Liberation Sans', sans-serif" font-size="12" fill="#444444">h</text>
<text transform="translate(982.30,175.40) rotate(-90)" text-anchor="middle" font-family="'Liberation Sans', sans-serif" font-size="12" fill="#444444">g</text>
<text transform="translate(982.30,190.70) rotate(-90)" text-anchor="middle" font-family="'Liberation Sans', sans-serif" font-size="12" fill="#444444">f</text>
<text transform="translate(982.30,236.70) rotate(-90)" text-anchor="middle" font-family="'Liberation Sans', sans-serif" font-size="12" fill="#444444">e</text>
<text transform="translate(982.30,252.00) rotate(-90)" text-anchor="middle" font-family="'Liberation Sans', sans-serif" font-size="12" fill="#444444">d</text>
<text transform="translate(982.30,267.30) rotate(-90)" text-anchor="middle" font-family="'Liberation Sans', sans-serif" font-size="12" fill="#444444">c</text>
<text transform="translate(982.30,282.60) rotate(-90)" text-anchor="middle" font-family="'Liberation Sans', sans-serif" font-size="12" fill="#444444">b</text>
<text transform="translate(982.30,297.90) rotate(-90)" text-anchor="middle" font-family="'Liberation Sans', sans-serif" font-size="12" fill="#444444">a</text>
<rect x="519.40" y="190.60" width="2.60" height="6.40" rx="0" fill="#8a8a8a" />
<rect x="519.40" y="231.00" width="2.60" height="5.70" rx="0" fill="#8a8a8a" />
<circle cx="520.70" cy="190.60" r="2.00" fill="#666" />
<circle cx="520.70" cy="236.70" r="2.00" fill="#666" />
<rect x="549.90" y="190.60" width="2.60" height="6.40" rx="0" fill="#8a8a8a" />
<rect x="549.90" y="231.00" width="2.60" height="5.70" rx="0" fill="#8a8a8a" />
<circle cx="551.20" cy="190.60" r="2.00" fill="#666" />
<circle cx="551.20" cy="236.70" r="2.00" fill="#666" />
<rect x="517.50" y="196.20" width="36.30" height="35.50" rx="2" fill="#a9a9a9" />
<rect x="518.30" y="197.00" width="34.70" height="33.90" rx="1.5" fill="#bfbfbf" />
<circle cx="522.60" cy="200.90" r="3.80" fill="#4e4e4e" />
<circle cx="522.60" cy="200.50" r="3.60" fill="#5a5a5a" />
<circle cx="548.70" cy="200.90" r="3.80" fill="#4e4e4e" />
<circle cx="548.70" cy="200.50" r="3.60" fill="#5a5a5a" />
<circle cx="522.60" cy="227.40" r="3.80" fill="#4e4e4e" />
<circle cx="522.60" cy="227.00" r="3.60" fill="#5a5a5a" />
<circle cx="548.70" cy="227.40" r="3.80" fill="#4e4e4e" />
<circle cx="548.70" cy="227.00" r="3.60" fill="#5a5a5a" />
<circle cx="535.70" cy="214.80" r="10.60" fill="#6e6e6e" />
<circle cx="535.70" cy="213.60" r="10.30" fill="#2e2e2e" />
<circle cx="627.43" cy="68.40" r="2.60" fill="#5a5a5a" />
<circle cx="627.43" cy="129.40" r="2.60" fill="#5a5a5a" />
<line x1="627.43" y1="68.4" x2="627.43" y2="129.4" stroke="#999999" stroke-width="2.3" stroke-linecap="round"/>
<clipPath id="rc627468"><path d="M624.93,76.2 C621.43,77.4 620.2299999999999,81.4 620.2299999999999,85.4 C620.2299999999999,87.9 621.93,89.4 621.93,92.4 L621.93,104.4 C621.93,107.4 620.2299999999999,108.9 620.2299999999999,112.4 C620.2299999999999,117.4 622.43,120.9 624.93,121.60000000000001 L629.93,121.60000000000001 C632.43,120.9 634.63,117.4 634.63,112.4 C634.63,108.9 632.93,107.4 632.93,104.4 L632.93,92.4 C632.93,89.4 634.63,87.9 634.63,85.4 C634.63,81.4 633.43,77.4 629.93,76.2 Z"/></clipPath>
<path d="M624.93,76.2 C621.43,77.4 620.2299999999999,81.4 620.2299999999999,85.4 C620.2299999999999,87.9 621.93,89.4 621.93,92.4 L621.93,104.4 C621.93,107.4 620.2299999999999,108.9 620.2299999999999,112.4 C620.2299999999999,117.4 622.43,120.9 624.93,121.60000000000001 L629.93,121.60000000000001 C632.43,120.9 634.63,117.4 634.63,112.4 C634.63,108.9 632.93,107.4 632.93,104.4 L632.93,92.4 C632.93,89.4 634.63,87.9 634.63,85.4 C634.63,81.4 633.43,77.4 629.93,76.2 Z" fill="#e2b877"/>
<rect x="618.43" y="84.80000000000001" width="18" height="1.3000000000000007" fill="#8f8a3a" clip-path="url(#rc627468)"/>
<rect x="618.43" y="94.30000000000001" width="18" height="4.5" fill="#ff1a1a" clip-path="url(#rc627468)"/>
<rect x="618.43" y="102.4" width="18" height="4.100000000000001" fill="#111111" clip-path="url(#rc627468)"/>
<rect x="618.43" y="109.80000000000001" width="18" height="4.899999999999999" fill="#8b4513" clip-path="url(#rc627468)"/>
<rect x="619.93" y="84.80000000000001" width="4" height="1.3000000000000007" fill="#e0d840" clip-path="url(#rc627468)"/>
<circle cx="658.01" cy="68.40" r="2.60" fill="#5a5a5a" />
<circle cx="658.01" cy="129.40" r="2.60" fill="#5a5a5a" />
<line x1="658.01" y1="68.4" x2="658.01" y2="129.4" stroke="#999999" stroke-width="2.3" stroke-linecap="round"/>
<clipPath id="rc658068"><path d="M655.51,76.2 C652.01,77.4 650.81,81.4 650.81,85.4 C650.81,87.9 652.51,89.4 652.51,92.4 L652.51,104.4 C652.51,107.4 650.81,108.9 650.81,112.4 C650.81,117.4 653.01,120.9 655.51,121.60000000000001 L660.51,121.60000000000001 C663.01,120.9 665.21,117.4 665.21,112.4 C665.21,108.9 663.51,107.4 663.51,104.4 L663.51,92.4 C663.51,89.4 665.21,87.9 665.21,85.4 C665.21,81.4 664.01,77.4 660.51,76.2 Z"/></clipPath>
<path d="M655.51,76.2 C652.01,77.4 650.81,81.4 650.81,85.4 C650.81,87.9 652.51,89.4 652.51,92.4 L652.51,104.4 C652.51,107.4 650.81,108.9 650.81,112.4 C650.81,117.4 653.01,120.9 655.51,121.60000000000001 L660.51,121.60000000000001 C663.01,120.9 665.21,117.4 665.21,112.4 C665.21,108.9 663.51,107.4 663.51,104.4 L663.51,92.4 C663.51,89.4 665.21,87.9 665.21,85.4 C665.21,81.4 664.01,77.4 660.51,76.2 Z" fill="#e2b877"/>
<rect x="649.01" y="84.80000000000001" width="18" height="1.3000000000000007" fill="#8f8a3a" clip-path="url(#rc658068)"/>
<rect x="649.01" y="94.30000000000001" width="18" height="4.5" fill="#ff1a1a" clip-path="url(#rc658068)"/>
<rect x="649.01" y="102.4" width="18" height="4.100000000000001" fill="#111111" clip-path="url(#rc658068)"/>
<rect x="649.01" y="109.80000000000001" width="18" height="4.899999999999999" fill="#8b4513" clip-path="url(#rc658068)"/>
<rect x="650.51" y="84.80000000000001" width="4" height="1.3000000000000007" fill="#e0d840" clip-path="url(#rc658068)"/>
<circle cx="688.59" cy="68.40" r="2.60" fill="#5a5a5a" />
<circle cx="688.59" cy="129.40" r="2.60" fill="#5a5a5a" />
<line x1="688.5899999999999" y1="68.4" x2="688.5899999999999" y2="129.4" stroke="#999999" stroke-width="2.3" stroke-linecap="round"/>
<clipPath id="rc688568"><path d="M686.0899999999999,76.2 C682.5899999999999,77.4 681.3899999999999,81.4 681.3899999999999,85.4 C681.3899999999999,87.9 683.0899999999999,89.4 683.0899999999999,92.4 L683.0899999999999,104.4 C683.0899999999999,107.4 681.3899999999999,108.9 681.3899999999999,112.4 C681.3899999999999,117.4 683.5899999999999,120.9 686.0899999999999,121.60000000000001 L691.0899999999999,121.60000000000001 C693.5899999999999,120.9 695.79,117.4 695.79,112.4 C695.79,108.9 694.0899999999999,107.4 694.0899999999999,104.4 L694.0899999999999,92.4 C694.0899999999999,89.4 695.79,87.9 695.79,85.4 C695.79,81.4 694.5899999999999,77.4 691.0899999999999,76.2 Z"/></clipPath>
<path d="M686.0899999999999,76.2 C682.5899999999999,77.4 681.3899999999999,81.4 681.3899999999999,85.4 C681.3899999999999,87.9 683.0899999999999,89.4 683.0899999999999,92.4 L683.0899999999999,104.4 C683.0899999999999,107.4 681.3899999999999,108.9 681.3899999999999,112.4 C681.3899999999999,117.4 683.5899999999999,120.9 686.0899999999999,121.60000000000001 L691.0899999999999,121.60000000000001 C693.5899999999999,120.9 695.79,117.4 695.79,112.4 C695.79,108.9 694.0899999999999,107.4 694.0899999999999,104.4 L694.0899999999999,92.4 C694.0899999999999,89.4 695.79,87.9 695.79,85.4 C695.79,81.4 694.5899999999999,77.4 691.0899999999999,76.2 Z" fill="#e2b877"/>
<rect x="679.5899999999999" y="84.80000000000001" width="18" height="1.3000000000000007" fill="#8f8a3a" clip-path="url(#rc688568)"/>
<rect x="679.5899999999999" y="94.30000000000001" width="18" height="4.5" fill="#ff1a1a" clip-path="url(#rc688568)"/>
<rect x="679.5899999999999" y="102.4" width="18" height="4.100000000000001" fill="#111111" clip-path="url(#rc688568)"/>
<rect x="679.5899999999999" y="109.80000000000001" width="18" height="4.899999999999999" fill="#8b4513" clip-path="url(#rc688568)"/>
<rect x="681.0899999999999" y="84.80000000000001" width="4" height="1.3000000000000007" fill="#e0d840" clip-path="url(#rc688568)"/>
<circle cx="550.98" cy="282.60" r="2.60" fill="#5a5a5a" />
<circle cx="550.98" cy="343.60" r="2.60" fill="#5a5a5a" />
<line x1="550.98" y1="282.6" x2="550.98" y2="343.6" stroke="#999999" stroke-width="2.3" stroke-linecap="round"/>
<clipPath id="rc5509282"><path d="M548.48,290.40000000000003 C544.98,291.6 543.78,295.6 543.78,299.6 C543.78,302.1 545.48,303.6 545.48,306.6 L545.48,318.6 C545.48,321.6 543.78,323.1 543.78,326.6 C543.78,331.6 545.98,335.1 548.48,335.8 L553.48,335.8 C555.98,335.1 558.1800000000001,331.6 558.1800000000001,326.6 C558.1800000000001,323.1 556.48,321.6 556.48,318.6 L556.48,306.6 C556.48,303.6 558.1800000000001,302.1 558.1800000000001,299.6 C558.1800000000001,295.6 556.98,291.6 553.48,290.40000000000003 Z"/></clipPath>
<path d="M548.48,290.40000000000003 C544.98,291.6 543.78,295.6 543.78,299.6 C543.78,302.1 545.48,303.6 545.48,306.6 L545.48,318.6 C545.48,321.6 543.78,323.1 543.78,326.6 C543.78,331.6 545.98,335.1 548.48,335.8 L553.48,335.8 C555.98,335.1 558.1800000000001,331.6 558.1800000000001,326.6 C558.1800000000001,323.1 556.48,321.6 556.48,318.6 L556.48,306.6 C556.48,303.6 558.1800000000001,302.1 558.1800000000001,299.6 C558.1800000000001,295.6 556.98,291.6 553.48,290.40000000000003 Z" fill="#e2b877"/>
<rect x="541.98" y="298.6" width="18" height="1.3000000000000007" fill="#8f8a3a" clip-path="url(#rc5509282)"/>
<rect x="541.98" y="308.6" width="18" height="4.100000000000001" fill="#ff8a00" clip-path="url(#rc5509282)"/>
<rect x="541.98" y="316.5" width="18" height="3.5" fill="#111111" clip-path="url(#rc5509282)"/>
<rect x="541.98" y="324.40000000000003" width="18" height="3.700000000000003" fill="#8b4513" clip-path="url(#rc5509282)"/>
<rect x="543.48" y="298.6" width="4" height="1.3000000000000007" fill="#e0d840" clip-path="url(#rc5509282)"/>
<polyline points="617.34,166.5 612.4399999999999,173 612.14,175.4" fill="none" stroke="#8a8a8a" stroke-width="2.7" stroke-linecap="round"/>
<line x1="627.43" y1="166.5" x2="627.43" y2="175.4" stroke="#8a8a8a" stroke-width="2.7" stroke-linecap="round"/>
<circle cx="612.14" cy="175.40" r="2.00" fill="#666" />
<circle cx="627.43" cy="175.40" r="2.00" fill="#666" />
<path d="M611.0849999999999,158.5 L611.0849999999999,142.5 A10.5,10.5 0 0 1 632.0849999999999,142.5 L632.0849999999999,158.5 Z" fill="#86191d"/>
<path d="M609.3849999999999,156.5 L632.3849999999999,156.5 L632.3849999999999,162 Q632.3849999999999,167 621.0849999999999,167 Q609.3849999999999,167 609.3849999999999,162 Z" fill="#7c1b1e"/>
<path d="M611.0849999999999,156.5 L632.0849999999999,156.5 L632.0849999999999,158.0 L611.0849999999999,158.0 Z" fill="#86191d"/>
<path d="M610.0849999999999,162.8 Q621.0849999999999,165.8 632.0849999999999,162.8" fill="none" stroke="#a94c4c" stroke-width="1"/>
<polyline points="647.9200000000001,166.5 643.02,173 642.72,175.4" fill="none" stroke="#8a8a8a" stroke-width="2.7" stroke-linecap="round"/>
<line x1="658.01" y1="166.5" x2="658.01" y2="175.4" stroke="#8a8a8a" stroke-width="2.7" stroke-linecap="round"/>
<circle cx="642.72" cy="175.40" r="2.00" fill="#666" />
<circle cx="658.01" cy="175.40" r="2.00" fill="#666" />
<path d="M641.665,154.5 L641.665,142.5 A10.5,10.5 0 0 1 662.665,142.5 L662.665,154.5 Z" fill="#d8973a"/>
<path d="M639.9649999999999,154.5 L639.9649999999999,162 Q639.9649999999999,167 651.665,167 Q662.9649999999999,167 662.9649999999999,162 L662.9649999999999,154.5 Q652.165,151.0 639.9649999999999,154.5 Z" fill="#8a6226"/>
<ellipse cx="652.165" cy="154.8" rx="8.8" ry="2.3" fill="#e2b06e"/>
<path d="M640.665,162.8 Q651.665,165.8 662.665,162.8" fill="none" stroke="#a07a40" stroke-width="1"/>
<polyline points="678.5,166.5 673.5999999999999,173 673.3,175.4" fill="none" stroke="#8a8a8a" stroke-width="2.7" stroke-linecap="round"/>
<line x1="688.5899999999999" y1="166.5" x2="688.5899999999999" y2="175.4" stroke="#8a8a8a" stroke-width="2.7" stroke-linecap="round"/>
<circle cx="673.30" cy="175.40" r="2.00" fill="#666" />
<circle cx="688.59" cy="175.40" r="2.00" fill="#666" />
<path d="M672.2449999999999,158.5 L672.2449999999999,142.5 A10.5,10.5 0 0 1 693.2449999999999,142.5 L693.2449999999999,158.5 Z" fill="#24892d"/>
<path d="M670.5449999999998,156.5 L693.5449999999998,156.5 L693.5449999999998,162 Q693.5449999999998,167 682.2449999999999,167 Q670.5449999999998,167 670.5449999999998,162 Z" fill="#22852b"/>
<path d="M672.2449999999999,156.5 L693.2449999999999,156.5 L693.2449999999999,158.0 L672.2449999999999,158.0 Z" fill="#24892d"/>
<path d="M671.2449999999999,160.5 Q682.2449999999999,163.5 693.2449999999999,160.5" fill="none" stroke="#58a35c" stroke-width="1"/>
<path d="M349,64.7 L349,35.3 A13.0,13.0 0 0 1 362.0,22.3 L659.9,22.3 A13.0,13.0 0 0 1 672.9,35.3 L672.9,129.5" fill="none" stroke="#3bb54a" stroke-width="3.7" stroke-linecap="round" stroke-linejoin="round"/>
<path d="M364.2,64.7 L364.2,44.4 A13.0,13.0 0 0 1 377.2,31.4 L629.4,31.4 A13.0,13.0 0 0 1 642.4,44.4 L642.4,129.5" fill="none" stroke="#3bb54a" stroke-width="3.7" stroke-linecap="round" stroke-linejoin="round"/>
<path d="M379.1,64.7 L379.1,53.4 A13.0,13.0 0 0 1 392.1,40.4 L599.1,40.4 A13.0,13.0 0 0 1 612.1,53.4 L612.1,129.5" fill="none" stroke="#3bb54a" stroke-width="3.7" stroke-linecap="round" stroke-linejoin="round"/>
<path d="M394.1,65.6 L395.6,58.5 C396.8,54 399,51.4 404.5,51.4 L535.2,51.4 A16,16 0 0 1 551.2,67.4 L551.2,129.5" fill="none" stroke="#68c7db" stroke-width="3.7" stroke-linecap="round" stroke-linejoin="round"/>
<path d="M272.2,354 L272.2,390.9 A13,13 0 0 0 285.2,403.9 L919.9,403.9 A13,13 0 0 0 932.9,390.9 L932.9,359.1" fill="none" stroke="#e2222a" stroke-width="3.8" stroke-linecap="round" stroke-linejoin="round"/>
<path d="M287.7,355 L287.7,380.8 A13,13 0 0 0 300.7,393.8 L904.5,393.8 A13,13 0 0 0 917.5,380.8 L917.5,343.7" fill="none" stroke="#363b40" stroke-width="3.8" stroke-linecap="round" stroke-linejoin="round"/>
<path d="M948.5,67.3 L948.5,343.7" fill="none" stroke="#363b40" stroke-width="3.8" stroke-linecap="round" stroke-linejoin="round"/>
<path d="M963.8,83.1 L963.8,359.1" fill="none" stroke="#e2222a" stroke-width="3.8" stroke-linecap="round" stroke-linejoin="round"/>
<path d="M520.3,297.5 L520.3,359" fill="none" stroke="#e2222a" stroke-width="3.8" stroke-linecap="round" stroke-linejoin="round"/>
</svg>
</body></html>
